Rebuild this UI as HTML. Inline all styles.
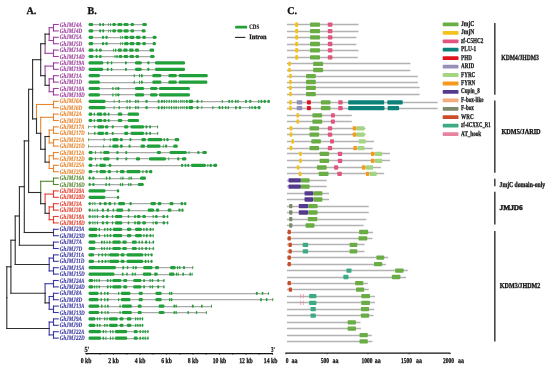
<!DOCTYPE html>
<html><head><meta charset="utf-8"><title>GhJMJ gene family: phylogeny, gene structure and domains</title>
<style>
html,body{margin:0;padding:0;background:#fff;}
body{width:550px;height:370px;overflow:hidden;}
svg{display:block;will-change:transform;}
</style></head><body>
<svg width="550" height="370" viewBox="0 0 550 370" text-rendering="geometricPrecision">
<rect width="550" height="370" fill="#ffffff"/>
<g stroke-linecap="square">
<line x1="53.5" y1="24.5" x2="58.2" y2="24.5" stroke="#9c3f9c" stroke-width="1.1"/>
<line x1="53.5" y1="30.9" x2="58.2" y2="30.9" stroke="#9c3f9c" stroke-width="1.1"/>
<line x1="53.5" y1="24.5" x2="53.5" y2="30.9" stroke="#9c3f9c" stroke-width="1.1"/>
<line x1="53.5" y1="37.3" x2="58.2" y2="37.3" stroke="#9c3f9c" stroke-width="1.1"/>
<line x1="53.5" y1="43.7" x2="58.2" y2="43.7" stroke="#9c3f9c" stroke-width="1.1"/>
<line x1="53.5" y1="37.3" x2="53.5" y2="43.7" stroke="#9c3f9c" stroke-width="1.1"/>
<line x1="53.5" y1="50.1" x2="58.2" y2="50.1" stroke="#9c3f9c" stroke-width="1.1"/>
<line x1="53.5" y1="56.5" x2="58.2" y2="56.5" stroke="#9c3f9c" stroke-width="1.1"/>
<line x1="53.5" y1="50.1" x2="53.5" y2="56.5" stroke="#9c3f9c" stroke-width="1.1"/>
<line x1="53.5" y1="62.9" x2="58.2" y2="62.9" stroke="#9c3f9c" stroke-width="1.1"/>
<line x1="53.5" y1="69.3" x2="58.2" y2="69.3" stroke="#9c3f9c" stroke-width="1.1"/>
<line x1="53.5" y1="62.9" x2="53.5" y2="69.3" stroke="#9c3f9c" stroke-width="1.1"/>
<line x1="53.5" y1="75.7" x2="58.2" y2="75.7" stroke="#9c3f9c" stroke-width="1.1"/>
<line x1="53.5" y1="82.1" x2="58.2" y2="82.1" stroke="#9c3f9c" stroke-width="1.1"/>
<line x1="53.5" y1="75.7" x2="53.5" y2="82.1" stroke="#9c3f9c" stroke-width="1.1"/>
<line x1="53.5" y1="88.5" x2="58.2" y2="88.5" stroke="#9c3f9c" stroke-width="1.1"/>
<line x1="53.5" y1="94.9" x2="58.2" y2="94.9" stroke="#9c3f9c" stroke-width="1.1"/>
<line x1="53.5" y1="88.5" x2="53.5" y2="94.9" stroke="#9c3f9c" stroke-width="1.1"/>
<line x1="49.2" y1="27.7" x2="53.5" y2="27.7" stroke="#9c3f9c" stroke-width="1.1"/>
<line x1="49.2" y1="40.5" x2="53.5" y2="40.5" stroke="#9c3f9c" stroke-width="1.1"/>
<line x1="49.2" y1="27.7" x2="49.2" y2="34.1" stroke="#9c3f9c" stroke-width="1.1"/>
<line x1="49.2" y1="34.1" x2="49.2" y2="40.5" stroke="#9c3f9c" stroke-width="1.1"/>
<line x1="45.1" y1="34.1" x2="49.2" y2="34.1" stroke="#2e2e2e" stroke-width="1.1"/>
<line x1="45.1" y1="53.3" x2="53.5" y2="53.3" stroke="#9c3f9c" stroke-width="1.1"/>
<line x1="45.1" y1="34.1" x2="45.1" y2="43.7" stroke="#2e2e2e" stroke-width="1.1"/>
<line x1="45.1" y1="43.7" x2="45.1" y2="53.3" stroke="#9c3f9c" stroke-width="1.1"/>
<line x1="49.2" y1="78.9" x2="53.5" y2="78.9" stroke="#9c3f9c" stroke-width="1.1"/>
<line x1="49.2" y1="91.7" x2="53.5" y2="91.7" stroke="#9c3f9c" stroke-width="1.1"/>
<line x1="49.2" y1="78.9" x2="49.2" y2="85.3" stroke="#9c3f9c" stroke-width="1.1"/>
<line x1="49.2" y1="85.3" x2="49.2" y2="91.7" stroke="#9c3f9c" stroke-width="1.1"/>
<line x1="45.1" y1="66.1" x2="53.5" y2="66.1" stroke="#9c3f9c" stroke-width="1.1"/>
<line x1="45.1" y1="85.3" x2="49.2" y2="85.3" stroke="#2e2e2e" stroke-width="1.1"/>
<line x1="45.1" y1="66.1" x2="45.1" y2="75.7" stroke="#9c3f9c" stroke-width="1.1"/>
<line x1="45.1" y1="75.7" x2="45.1" y2="85.3" stroke="#2e2e2e" stroke-width="1.1"/>
<line x1="40.7" y1="43.7" x2="45.1" y2="43.7" stroke="#2e2e2e" stroke-width="1.1"/>
<line x1="40.7" y1="75.7" x2="45.1" y2="75.7" stroke="#2e2e2e" stroke-width="1.1"/>
<line x1="40.7" y1="43.7" x2="40.7" y2="59.7" stroke="#2e2e2e" stroke-width="1.1"/>
<line x1="40.7" y1="59.7" x2="40.7" y2="75.7" stroke="#2e2e2e" stroke-width="1.1"/>
<line x1="53.5" y1="101.3" x2="58.2" y2="101.3" stroke="#e8852e" stroke-width="1.1"/>
<line x1="53.5" y1="107.7" x2="58.2" y2="107.7" stroke="#e8852e" stroke-width="1.1"/>
<line x1="53.5" y1="101.3" x2="53.5" y2="107.7" stroke="#e8852e" stroke-width="1.1"/>
<line x1="53.5" y1="114.1" x2="58.2" y2="114.1" stroke="#e8852e" stroke-width="1.1"/>
<line x1="53.5" y1="120.5" x2="58.2" y2="120.5" stroke="#e8852e" stroke-width="1.1"/>
<line x1="53.5" y1="114.1" x2="53.5" y2="120.5" stroke="#e8852e" stroke-width="1.1"/>
<line x1="53.5" y1="126.9" x2="58.2" y2="126.9" stroke="#e8852e" stroke-width="1.1"/>
<line x1="53.5" y1="133.3" x2="58.2" y2="133.3" stroke="#e8852e" stroke-width="1.1"/>
<line x1="53.5" y1="126.9" x2="53.5" y2="133.3" stroke="#e8852e" stroke-width="1.1"/>
<line x1="53.5" y1="139.7" x2="58.2" y2="139.7" stroke="#e8852e" stroke-width="1.1"/>
<line x1="53.5" y1="146.1" x2="58.2" y2="146.1" stroke="#e8852e" stroke-width="1.1"/>
<line x1="53.5" y1="139.7" x2="53.5" y2="146.1" stroke="#e8852e" stroke-width="1.1"/>
<line x1="53.5" y1="152.5" x2="58.2" y2="152.5" stroke="#e8852e" stroke-width="1.1"/>
<line x1="53.5" y1="158.9" x2="58.2" y2="158.9" stroke="#e8852e" stroke-width="1.1"/>
<line x1="53.5" y1="152.5" x2="53.5" y2="158.9" stroke="#e8852e" stroke-width="1.1"/>
<line x1="53.5" y1="165.3" x2="58.2" y2="165.3" stroke="#e8852e" stroke-width="1.1"/>
<line x1="53.5" y1="171.7" x2="58.2" y2="171.7" stroke="#e8852e" stroke-width="1.1"/>
<line x1="53.5" y1="165.3" x2="53.5" y2="171.7" stroke="#e8852e" stroke-width="1.1"/>
<line x1="49.2" y1="130.1" x2="53.5" y2="130.1" stroke="#e8852e" stroke-width="1.1"/>
<line x1="49.2" y1="142.9" x2="53.5" y2="142.9" stroke="#e8852e" stroke-width="1.1"/>
<line x1="49.2" y1="130.1" x2="49.2" y2="136.5" stroke="#e8852e" stroke-width="1.1"/>
<line x1="49.2" y1="136.5" x2="49.2" y2="142.9" stroke="#e8852e" stroke-width="1.1"/>
<line x1="49.2" y1="155.7" x2="53.5" y2="155.7" stroke="#e8852e" stroke-width="1.1"/>
<line x1="49.2" y1="168.5" x2="53.5" y2="168.5" stroke="#e8852e" stroke-width="1.1"/>
<line x1="49.2" y1="155.7" x2="49.2" y2="162.1" stroke="#e8852e" stroke-width="1.1"/>
<line x1="49.2" y1="162.1" x2="49.2" y2="168.5" stroke="#e8852e" stroke-width="1.1"/>
<line x1="45.1" y1="136.5" x2="49.2" y2="136.5" stroke="#2e2e2e" stroke-width="1.1"/>
<line x1="45.1" y1="162.1" x2="49.2" y2="162.1" stroke="#2e2e2e" stroke-width="1.1"/>
<line x1="45.1" y1="136.5" x2="45.1" y2="149.3" stroke="#2e2e2e" stroke-width="1.1"/>
<line x1="45.1" y1="149.3" x2="45.1" y2="162.1" stroke="#2e2e2e" stroke-width="1.1"/>
<line x1="40.7" y1="117.3" x2="53.5" y2="117.3" stroke="#e8852e" stroke-width="1.1"/>
<line x1="40.7" y1="149.3" x2="45.1" y2="149.3" stroke="#2e2e2e" stroke-width="1.1"/>
<line x1="40.7" y1="117.3" x2="40.7" y2="133.3" stroke="#e8852e" stroke-width="1.1"/>
<line x1="40.7" y1="133.3" x2="40.7" y2="149.3" stroke="#2e2e2e" stroke-width="1.1"/>
<line x1="36.5" y1="104.5" x2="53.5" y2="104.5" stroke="#e8852e" stroke-width="1.1"/>
<line x1="36.5" y1="133.3" x2="40.7" y2="133.3" stroke="#2e2e2e" stroke-width="1.1"/>
<line x1="36.5" y1="104.5" x2="36.5" y2="118.9" stroke="#e8852e" stroke-width="1.1"/>
<line x1="36.5" y1="118.9" x2="36.5" y2="133.3" stroke="#2e2e2e" stroke-width="1.1"/>
<line x1="32.6" y1="59.7" x2="40.7" y2="59.7" stroke="#2e2e2e" stroke-width="1.1"/>
<line x1="32.6" y1="118.9" x2="36.5" y2="118.9" stroke="#2e2e2e" stroke-width="1.1"/>
<line x1="32.6" y1="59.7" x2="32.6" y2="89.3" stroke="#2e2e2e" stroke-width="1.1"/>
<line x1="32.6" y1="89.3" x2="32.6" y2="118.9" stroke="#2e2e2e" stroke-width="1.1"/>
<line x1="53.5" y1="178.1" x2="58.2" y2="178.1" stroke="#55882f" stroke-width="1.1"/>
<line x1="53.5" y1="184.5" x2="58.2" y2="184.5" stroke="#55882f" stroke-width="1.1"/>
<line x1="53.5" y1="178.1" x2="53.5" y2="184.5" stroke="#55882f" stroke-width="1.1"/>
<line x1="53.5" y1="190.9" x2="58.2" y2="190.9" stroke="#e2402f" stroke-width="1.1"/>
<line x1="53.5" y1="197.3" x2="58.2" y2="197.3" stroke="#e2402f" stroke-width="1.1"/>
<line x1="53.5" y1="190.9" x2="53.5" y2="197.3" stroke="#e2402f" stroke-width="1.1"/>
<line x1="53.5" y1="203.7" x2="58.2" y2="203.7" stroke="#e2402f" stroke-width="1.1"/>
<line x1="53.5" y1="210.1" x2="58.2" y2="210.1" stroke="#e2402f" stroke-width="1.1"/>
<line x1="53.5" y1="203.7" x2="53.5" y2="210.1" stroke="#e2402f" stroke-width="1.1"/>
<line x1="53.5" y1="216.5" x2="58.2" y2="216.5" stroke="#e2402f" stroke-width="1.1"/>
<line x1="53.5" y1="222.9" x2="58.2" y2="222.9" stroke="#e2402f" stroke-width="1.1"/>
<line x1="53.5" y1="216.5" x2="53.5" y2="222.9" stroke="#e2402f" stroke-width="1.1"/>
<line x1="49.2" y1="206.9" x2="53.5" y2="206.9" stroke="#e2402f" stroke-width="1.1"/>
<line x1="49.2" y1="219.7" x2="53.5" y2="219.7" stroke="#e2402f" stroke-width="1.1"/>
<line x1="49.2" y1="206.9" x2="49.2" y2="213.3" stroke="#e2402f" stroke-width="1.1"/>
<line x1="49.2" y1="213.3" x2="49.2" y2="219.7" stroke="#e2402f" stroke-width="1.1"/>
<line x1="45.1" y1="194.1" x2="53.5" y2="194.1" stroke="#e2402f" stroke-width="1.1"/>
<line x1="45.1" y1="213.3" x2="49.2" y2="213.3" stroke="#2e2e2e" stroke-width="1.1"/>
<line x1="45.1" y1="194.1" x2="45.1" y2="203.7" stroke="#e2402f" stroke-width="1.1"/>
<line x1="45.1" y1="203.7" x2="45.1" y2="213.3" stroke="#2e2e2e" stroke-width="1.1"/>
<line x1="40.7" y1="181.3" x2="53.5" y2="181.3" stroke="#55882f" stroke-width="1.1"/>
<line x1="40.7" y1="203.7" x2="45.1" y2="203.7" stroke="#2e2e2e" stroke-width="1.1"/>
<line x1="40.7" y1="181.3" x2="40.7" y2="192.5" stroke="#55882f" stroke-width="1.1"/>
<line x1="40.7" y1="192.5" x2="40.7" y2="203.7" stroke="#2e2e2e" stroke-width="1.1"/>
<line x1="28.6" y1="89.3" x2="32.6" y2="89.3" stroke="#2e2e2e" stroke-width="1.1"/>
<line x1="28.6" y1="192.5" x2="40.7" y2="192.5" stroke="#2e2e2e" stroke-width="1.1"/>
<line x1="28.6" y1="89.3" x2="28.6" y2="140.9" stroke="#2e2e2e" stroke-width="1.1"/>
<line x1="28.6" y1="140.9" x2="28.6" y2="192.5" stroke="#2e2e2e" stroke-width="1.1"/>
<line x1="53.5" y1="229.3" x2="58.2" y2="229.3" stroke="#3a38a2" stroke-width="1.1"/>
<line x1="53.5" y1="235.7" x2="58.2" y2="235.7" stroke="#3a38a2" stroke-width="1.1"/>
<line x1="53.5" y1="229.3" x2="53.5" y2="235.7" stroke="#3a38a2" stroke-width="1.1"/>
<line x1="53.5" y1="242.1" x2="58.2" y2="242.1" stroke="#3a38a2" stroke-width="1.1"/>
<line x1="53.5" y1="248.5" x2="58.2" y2="248.5" stroke="#3a38a2" stroke-width="1.1"/>
<line x1="53.5" y1="242.1" x2="53.5" y2="248.5" stroke="#3a38a2" stroke-width="1.1"/>
<line x1="53.5" y1="254.9" x2="58.2" y2="254.9" stroke="#3a38a2" stroke-width="1.1"/>
<line x1="53.5" y1="261.3" x2="58.2" y2="261.3" stroke="#3a38a2" stroke-width="1.1"/>
<line x1="53.5" y1="254.9" x2="53.5" y2="261.3" stroke="#3a38a2" stroke-width="1.1"/>
<line x1="53.5" y1="267.7" x2="58.2" y2="267.7" stroke="#3a38a2" stroke-width="1.1"/>
<line x1="53.5" y1="274.1" x2="58.2" y2="274.1" stroke="#3a38a2" stroke-width="1.1"/>
<line x1="53.5" y1="267.7" x2="53.5" y2="274.1" stroke="#3a38a2" stroke-width="1.1"/>
<line x1="53.5" y1="280.5" x2="58.2" y2="280.5" stroke="#3a38a2" stroke-width="1.1"/>
<line x1="53.5" y1="286.9" x2="58.2" y2="286.9" stroke="#3a38a2" stroke-width="1.1"/>
<line x1="53.5" y1="280.5" x2="53.5" y2="286.9" stroke="#3a38a2" stroke-width="1.1"/>
<line x1="53.5" y1="293.3" x2="58.2" y2="293.3" stroke="#3a38a2" stroke-width="1.1"/>
<line x1="53.5" y1="299.7" x2="58.2" y2="299.7" stroke="#3a38a2" stroke-width="1.1"/>
<line x1="53.5" y1="293.3" x2="53.5" y2="299.7" stroke="#3a38a2" stroke-width="1.1"/>
<line x1="53.5" y1="306.1" x2="58.2" y2="306.1" stroke="#3a38a2" stroke-width="1.1"/>
<line x1="53.5" y1="312.5" x2="58.2" y2="312.5" stroke="#3a38a2" stroke-width="1.1"/>
<line x1="53.5" y1="306.1" x2="53.5" y2="312.5" stroke="#3a38a2" stroke-width="1.1"/>
<line x1="53.5" y1="318.9" x2="58.2" y2="318.9" stroke="#3a38a2" stroke-width="1.1"/>
<line x1="53.5" y1="325.3" x2="58.2" y2="325.3" stroke="#3a38a2" stroke-width="1.1"/>
<line x1="53.5" y1="318.9" x2="53.5" y2="325.3" stroke="#3a38a2" stroke-width="1.1"/>
<line x1="53.5" y1="331.7" x2="58.2" y2="331.7" stroke="#3a38a2" stroke-width="1.1"/>
<line x1="53.5" y1="338.1" x2="58.2" y2="338.1" stroke="#3a38a2" stroke-width="1.1"/>
<line x1="53.5" y1="331.7" x2="53.5" y2="338.1" stroke="#3a38a2" stroke-width="1.1"/>
<line x1="24.3" y1="140.9" x2="28.6" y2="140.9" stroke="#2e2e2e" stroke-width="1.1"/>
<line x1="24.3" y1="232.5" x2="53.5" y2="232.5" stroke="#2e2e2e" stroke-width="1.1"/>
<line x1="24.3" y1="140.9" x2="24.3" y2="186.7" stroke="#2e2e2e" stroke-width="1.1"/>
<line x1="24.3" y1="186.7" x2="24.3" y2="232.5" stroke="#2e2e2e" stroke-width="1.1"/>
<line x1="19.4" y1="186.7" x2="24.3" y2="186.7" stroke="#2e2e2e" stroke-width="1.1"/>
<line x1="19.4" y1="245.3" x2="53.5" y2="245.3" stroke="#2e2e2e" stroke-width="1.1"/>
<line x1="19.4" y1="186.7" x2="19.4" y2="216.0" stroke="#2e2e2e" stroke-width="1.1"/>
<line x1="19.4" y1="216.0" x2="19.4" y2="245.3" stroke="#2e2e2e" stroke-width="1.1"/>
<line x1="49.2" y1="258.1" x2="53.5" y2="258.1" stroke="#3a38a2" stroke-width="1.1"/>
<line x1="49.2" y1="270.9" x2="53.5" y2="270.9" stroke="#3a38a2" stroke-width="1.1"/>
<line x1="49.2" y1="258.1" x2="49.2" y2="264.5" stroke="#3a38a2" stroke-width="1.1"/>
<line x1="49.2" y1="264.5" x2="49.2" y2="270.9" stroke="#3a38a2" stroke-width="1.1"/>
<line x1="15.2" y1="216.0" x2="19.4" y2="216.0" stroke="#2e2e2e" stroke-width="1.1"/>
<line x1="15.2" y1="264.5" x2="49.2" y2="264.5" stroke="#2e2e2e" stroke-width="1.1"/>
<line x1="15.2" y1="216.0" x2="15.2" y2="240.2" stroke="#2e2e2e" stroke-width="1.1"/>
<line x1="15.2" y1="240.2" x2="15.2" y2="264.5" stroke="#2e2e2e" stroke-width="1.1"/>
<line x1="49.2" y1="296.5" x2="53.5" y2="296.5" stroke="#3a38a2" stroke-width="1.1"/>
<line x1="49.2" y1="309.3" x2="53.5" y2="309.3" stroke="#3a38a2" stroke-width="1.1"/>
<line x1="49.2" y1="296.5" x2="49.2" y2="302.9" stroke="#3a38a2" stroke-width="1.1"/>
<line x1="49.2" y1="302.9" x2="49.2" y2="309.3" stroke="#3a38a2" stroke-width="1.1"/>
<line x1="45.1" y1="283.7" x2="53.5" y2="283.7" stroke="#3a38a2" stroke-width="1.1"/>
<line x1="45.1" y1="302.9" x2="49.2" y2="302.9" stroke="#2e2e2e" stroke-width="1.1"/>
<line x1="45.1" y1="283.7" x2="45.1" y2="293.3" stroke="#3a38a2" stroke-width="1.1"/>
<line x1="45.1" y1="293.3" x2="45.1" y2="302.9" stroke="#2e2e2e" stroke-width="1.1"/>
<line x1="10.9" y1="240.2" x2="15.2" y2="240.2" stroke="#2e2e2e" stroke-width="1.1"/>
<line x1="10.9" y1="293.3" x2="45.1" y2="293.3" stroke="#2e2e2e" stroke-width="1.1"/>
<line x1="10.9" y1="240.2" x2="10.9" y2="266.8" stroke="#2e2e2e" stroke-width="1.1"/>
<line x1="10.9" y1="266.8" x2="10.9" y2="293.3" stroke="#2e2e2e" stroke-width="1.1"/>
<line x1="49.2" y1="322.1" x2="53.5" y2="322.1" stroke="#3a38a2" stroke-width="1.1"/>
<line x1="49.2" y1="334.9" x2="53.5" y2="334.9" stroke="#3a38a2" stroke-width="1.1"/>
<line x1="49.2" y1="322.1" x2="49.2" y2="328.5" stroke="#3a38a2" stroke-width="1.1"/>
<line x1="49.2" y1="328.5" x2="49.2" y2="334.9" stroke="#3a38a2" stroke-width="1.1"/>
<line x1="6.8" y1="266.8" x2="10.9" y2="266.8" stroke="#2e2e2e" stroke-width="1.1"/>
<line x1="6.8" y1="328.5" x2="49.2" y2="328.5" stroke="#2e2e2e" stroke-width="1.1"/>
<line x1="6.8" y1="266.8" x2="6.8" y2="297.6" stroke="#2e2e2e" stroke-width="1.1"/>
<line x1="6.8" y1="297.6" x2="6.8" y2="328.5" stroke="#2e2e2e" stroke-width="1.1"/>
</g>
<g font-family="'Liberation Serif', serif" font-weight="bold" font-style="italic" font-size="6.6" stroke-width="0.15">
<text transform="translate(59.8,26.5) scale(0.77,1)" fill="#9c3f9c" stroke="#9c3f9c">GhJMJ4A</text>
<text transform="translate(59.8,32.9) scale(0.77,1)" fill="#9c3f9c" stroke="#9c3f9c">GhJMJ4D</text>
<text transform="translate(59.8,39.3) scale(0.77,1)" fill="#9c3f9c" stroke="#9c3f9c">GhJMJ5A</text>
<text transform="translate(59.8,45.7) scale(0.77,1)" fill="#9c3f9c" stroke="#9c3f9c">GhJMJ5D</text>
<text transform="translate(59.8,52.1) scale(0.77,1)" fill="#9c3f9c" stroke="#9c3f9c">GhJMJ14A</text>
<text transform="translate(59.8,58.5) scale(0.77,1)" fill="#9c3f9c" stroke="#9c3f9c">GhJMJ14D</text>
<text transform="translate(59.8,64.9) scale(0.77,1)" fill="#9c3f9c" stroke="#9c3f9c">GhJMJ19A</text>
<text transform="translate(59.8,71.3) scale(0.77,1)" fill="#9c3f9c" stroke="#9c3f9c">GhJMJ19D</text>
<text transform="translate(59.8,77.7) scale(0.77,1)" fill="#9c3f9c" stroke="#9c3f9c">GhJMJ1A</text>
<text transform="translate(59.8,84.1) scale(0.77,1)" fill="#9c3f9c" stroke="#9c3f9c">GhJMJ1D</text>
<text transform="translate(59.8,90.5) scale(0.77,1)" fill="#9c3f9c" stroke="#9c3f9c">GhJMJ10A</text>
<text transform="translate(59.8,96.9) scale(0.77,1)" fill="#9c3f9c" stroke="#9c3f9c">GhJMJ10D</text>
<text transform="translate(59.8,103.3) scale(0.77,1)" fill="#e8852e" stroke="#e8852e">GhJMJ6A</text>
<text transform="translate(59.8,109.7) scale(0.77,1)" fill="#e8852e" stroke="#e8852e">GhJMJ6D</text>
<text transform="translate(59.8,116.1) scale(0.77,1)" fill="#e8852e" stroke="#e8852e">GhJMJ2A</text>
<text transform="translate(59.8,122.5) scale(0.77,1)" fill="#e8852e" stroke="#e8852e">GhJMJ2D</text>
<text transform="translate(59.8,128.9) scale(0.77,1)" fill="#e8852e" stroke="#e8852e">GhJMJ17A</text>
<text transform="translate(59.8,135.3) scale(0.77,1)" fill="#e8852e" stroke="#e8852e">GhJMJ17D</text>
<text transform="translate(59.8,141.7) scale(0.77,1)" fill="#e8852e" stroke="#e8852e">GhJMJ21A</text>
<text transform="translate(59.8,148.1) scale(0.77,1)" fill="#e8852e" stroke="#e8852e">GhJMJ21D</text>
<text transform="translate(59.8,154.5) scale(0.77,1)" fill="#e8852e" stroke="#e8852e">GhJMJ12A</text>
<text transform="translate(59.8,160.9) scale(0.77,1)" fill="#e8852e" stroke="#e8852e">GhJMJ12D</text>
<text transform="translate(59.8,167.3) scale(0.77,1)" fill="#e8852e" stroke="#e8852e">GhJMJ25A</text>
<text transform="translate(59.8,173.7) scale(0.77,1)" fill="#e8852e" stroke="#e8852e">GhJMJ25D</text>
<text transform="translate(59.8,180.1) scale(0.77,1)" fill="#55882f" stroke="#55882f">GhJMJ16A</text>
<text transform="translate(59.8,186.5) scale(0.77,1)" fill="#55882f" stroke="#55882f">GhJMJ16D</text>
<text transform="translate(59.8,192.9) scale(0.77,1)" fill="#e2402f" stroke="#e2402f">GhJMJ20A</text>
<text transform="translate(59.8,199.3) scale(0.77,1)" fill="#e2402f" stroke="#e2402f">GhJMJ20D</text>
<text transform="translate(59.8,205.7) scale(0.77,1)" fill="#e2402f" stroke="#e2402f">GhJMJ3A</text>
<text transform="translate(59.8,212.1) scale(0.77,1)" fill="#e2402f" stroke="#e2402f">GhJMJ3D</text>
<text transform="translate(59.8,218.5) scale(0.77,1)" fill="#e2402f" stroke="#e2402f">GhJMJ18A</text>
<text transform="translate(59.8,224.9) scale(0.77,1)" fill="#e2402f" stroke="#e2402f">GhJMJ18D</text>
<text transform="translate(59.8,231.3) scale(0.77,1)" fill="#3a38a2" stroke="#3a38a2">GhJMJ23A</text>
<text transform="translate(59.8,237.7) scale(0.77,1)" fill="#3a38a2" stroke="#3a38a2">GhJMJ23D</text>
<text transform="translate(59.8,244.1) scale(0.77,1)" fill="#3a38a2" stroke="#3a38a2">GhJMJ7A</text>
<text transform="translate(59.8,250.5) scale(0.77,1)" fill="#3a38a2" stroke="#3a38a2">GhJMJ7D</text>
<text transform="translate(59.8,256.9) scale(0.77,1)" fill="#3a38a2" stroke="#3a38a2">GhJMJ11A</text>
<text transform="translate(59.8,263.3) scale(0.77,1)" fill="#3a38a2" stroke="#3a38a2">GhJMJ11D</text>
<text transform="translate(59.8,269.7) scale(0.77,1)" fill="#3a38a2" stroke="#3a38a2">GhJMJ15A</text>
<text transform="translate(59.8,276.1) scale(0.77,1)" fill="#3a38a2" stroke="#3a38a2">GhJMJ15D</text>
<text transform="translate(59.8,282.5) scale(0.77,1)" fill="#3a38a2" stroke="#3a38a2">GhJMJ24A</text>
<text transform="translate(59.8,288.9) scale(0.77,1)" fill="#3a38a2" stroke="#3a38a2">GhJMJ24D</text>
<text transform="translate(59.8,295.3) scale(0.77,1)" fill="#3a38a2" stroke="#3a38a2">GhJMJ8A</text>
<text transform="translate(59.8,301.7) scale(0.77,1)" fill="#3a38a2" stroke="#3a38a2">GhJMJ8D</text>
<text transform="translate(59.8,308.1) scale(0.77,1)" fill="#3a38a2" stroke="#3a38a2">GhJMJ13A</text>
<text transform="translate(59.8,314.5) scale(0.77,1)" fill="#3a38a2" stroke="#3a38a2">GhJMJ13D</text>
<text transform="translate(59.8,320.9) scale(0.77,1)" fill="#3a38a2" stroke="#3a38a2">GhJMJ9A</text>
<text transform="translate(59.8,327.3) scale(0.77,1)" fill="#3a38a2" stroke="#3a38a2">GhJMJ9D</text>
<text transform="translate(59.8,333.7) scale(0.77,1)" fill="#3a38a2" stroke="#3a38a2">GhJMJ22A</text>
<text transform="translate(59.8,340.1) scale(0.77,1)" fill="#3a38a2" stroke="#3a38a2">GhJMJ22D</text>
</g>
<g>
<line x1="88.6" y1="24.5" x2="146.8" y2="24.5" stroke="#a9a9a9" stroke-width="1.25"/>
<rect x="88.6" y="22.90" width="4.6" height="3.2" rx="1.30" fill="#1fa038"/>
<rect x="99.2" y="22.90" width="1.8" height="3.2" rx="0.90" fill="#1fa038"/>
<rect x="102.3" y="22.90" width="1.8" height="3.2" rx="0.90" fill="#1fa038"/>
<rect x="108.1" y="22.90" width="0.7" height="3.2" rx="0.35" fill="#1fa038"/>
<rect x="110.1" y="22.90" width="0.9" height="3.2" rx="0.45" fill="#1fa038"/>
<rect x="112.3" y="22.90" width="3.6" height="3.2" rx="1.30" fill="#1fa038"/>
<rect x="117.4" y="22.90" width="4.9" height="3.2" rx="1.30" fill="#1fa038"/>
<rect x="123.5" y="22.90" width="5.1" height="3.2" rx="1.30" fill="#1fa038"/>
<rect x="130.5" y="22.90" width="3.6" height="3.2" rx="1.30" fill="#1fa038"/>
<rect x="142.3" y="22.90" width="4.5" height="3.2" rx="1.30" fill="#1fa038"/>
<line x1="88.6" y1="30.5" x2="145.5" y2="30.5" stroke="#a9a9a9" stroke-width="1.25"/>
<rect x="88.6" y="29.30" width="4.6" height="3.2" rx="1.30" fill="#1fa038"/>
<rect x="99.2" y="29.30" width="1.8" height="3.2" rx="0.90" fill="#1fa038"/>
<rect x="102.3" y="29.30" width="1.8" height="3.2" rx="0.90" fill="#1fa038"/>
<rect x="108.1" y="29.30" width="0.7" height="3.2" rx="0.35" fill="#1fa038"/>
<rect x="110.1" y="29.30" width="0.9" height="3.2" rx="0.45" fill="#1fa038"/>
<rect x="112.3" y="29.30" width="3.6" height="3.2" rx="1.30" fill="#1fa038"/>
<rect x="117.4" y="29.30" width="4.9" height="3.2" rx="1.30" fill="#1fa038"/>
<rect x="123.5" y="29.30" width="5.1" height="3.2" rx="1.30" fill="#1fa038"/>
<rect x="130.5" y="29.30" width="3.6" height="3.2" rx="1.30" fill="#1fa038"/>
<rect x="141.7" y="29.30" width="3.8" height="3.2" rx="1.30" fill="#1fa038"/>
<line x1="88.6" y1="37.5" x2="156.5" y2="37.5" stroke="#a9a9a9" stroke-width="1.25"/>
<rect x="88.6" y="35.70" width="4.6" height="3.2" rx="1.30" fill="#1fa038"/>
<rect x="101.9" y="35.70" width="2.2" height="3.2" rx="1.10" fill="#1fa038"/>
<rect x="105.4" y="35.70" width="2.3" height="3.2" rx="1.15" fill="#1fa038"/>
<rect x="120.1" y="35.70" width="0.7" height="3.2" rx="0.35" fill="#1fa038"/>
<rect x="121.9" y="35.70" width="0.9" height="3.2" rx="0.45" fill="#1fa038"/>
<rect x="124.1" y="35.70" width="4.5" height="3.2" rx="1.30" fill="#1fa038"/>
<rect x="129.5" y="35.70" width="5.0" height="3.2" rx="1.30" fill="#1fa038"/>
<rect x="135.9" y="35.70" width="4.6" height="3.2" rx="1.30" fill="#1fa038"/>
<rect x="142.3" y="35.70" width="3.6" height="3.2" rx="1.30" fill="#1fa038"/>
<rect x="152.6" y="35.70" width="3.9" height="3.2" rx="1.30" fill="#1fa038"/>
<line x1="88.6" y1="43.5" x2="155.9" y2="43.5" stroke="#a9a9a9" stroke-width="1.25"/>
<rect x="88.6" y="42.10" width="4.6" height="3.2" rx="1.30" fill="#1fa038"/>
<rect x="101.9" y="42.10" width="2.2" height="3.2" rx="1.10" fill="#1fa038"/>
<rect x="105.4" y="42.10" width="2.3" height="3.2" rx="1.15" fill="#1fa038"/>
<rect x="120.1" y="42.10" width="0.7" height="3.2" rx="0.35" fill="#1fa038"/>
<rect x="121.9" y="42.10" width="0.9" height="3.2" rx="0.45" fill="#1fa038"/>
<rect x="124.1" y="42.10" width="4.5" height="3.2" rx="1.30" fill="#1fa038"/>
<rect x="129.5" y="42.10" width="5.0" height="3.2" rx="1.30" fill="#1fa038"/>
<rect x="135.9" y="42.10" width="4.6" height="3.2" rx="1.30" fill="#1fa038"/>
<rect x="142.3" y="42.10" width="3.6" height="3.2" rx="1.30" fill="#1fa038"/>
<rect x="152.6" y="42.10" width="3.3" height="3.2" rx="1.30" fill="#1fa038"/>
<line x1="88.6" y1="50.5" x2="154.1" y2="50.5" stroke="#a9a9a9" stroke-width="1.25"/>
<rect x="88.6" y="48.50" width="4.9" height="3.2" rx="1.30" fill="#1fa038"/>
<rect x="95.5" y="48.50" width="2.2" height="3.2" rx="1.10" fill="#1fa038"/>
<rect x="99.0" y="48.50" width="2.7" height="3.2" rx="1.30" fill="#1fa038"/>
<rect x="113.2" y="48.50" width="0.9" height="3.2" rx="0.45" fill="#1fa038"/>
<rect x="115.0" y="48.50" width="1.3" height="3.2" rx="0.65" fill="#1fa038"/>
<rect x="117.7" y="48.50" width="4.2" height="3.2" rx="1.30" fill="#1fa038"/>
<rect x="123.2" y="48.50" width="4.5" height="3.2" rx="1.30" fill="#1fa038"/>
<rect x="129.0" y="48.50" width="4.7" height="3.2" rx="1.30" fill="#1fa038"/>
<rect x="135.0" y="48.50" width="4.0" height="3.2" rx="1.30" fill="#1fa038"/>
<rect x="149.5" y="48.50" width="4.6" height="3.2" rx="1.30" fill="#1fa038"/>
<line x1="88.6" y1="56.5" x2="154.5" y2="56.5" stroke="#a9a9a9" stroke-width="1.25"/>
<rect x="88.6" y="54.90" width="4.9" height="3.2" rx="1.30" fill="#1fa038"/>
<rect x="95.5" y="54.90" width="2.2" height="3.2" rx="1.10" fill="#1fa038"/>
<rect x="99.0" y="54.90" width="2.7" height="3.2" rx="1.30" fill="#1fa038"/>
<rect x="114.6" y="54.90" width="0.9" height="3.2" rx="0.45" fill="#1fa038"/>
<rect x="116.3" y="54.90" width="1.4" height="3.2" rx="0.70" fill="#1fa038"/>
<rect x="118.6" y="54.90" width="3.7" height="3.2" rx="1.30" fill="#1fa038"/>
<rect x="123.5" y="54.90" width="4.8" height="3.2" rx="1.30" fill="#1fa038"/>
<rect x="129.5" y="54.90" width="4.6" height="3.2" rx="1.30" fill="#1fa038"/>
<rect x="135.4" y="54.90" width="3.6" height="3.2" rx="1.30" fill="#1fa038"/>
<rect x="150.1" y="54.90" width="4.4" height="3.2" rx="1.30" fill="#1fa038"/>
<line x1="88.6" y1="62.5" x2="185.0" y2="62.5" stroke="#a9a9a9" stroke-width="1.25"/>
<rect x="88.6" y="61.30" width="14.6" height="3.2" rx="1.30" fill="#1fa038"/>
<rect x="106.8" y="61.30" width="1.8" height="3.2" rx="0.90" fill="#1fa038"/>
<rect x="110.8" y="61.30" width="1.5" height="3.2" rx="0.75" fill="#1fa038"/>
<rect x="125.0" y="61.30" width="1.8" height="3.2" rx="0.90" fill="#1fa038"/>
<rect x="135.0" y="61.30" width="6.7" height="3.2" rx="1.30" fill="#1fa038"/>
<rect x="147.2" y="61.30" width="2.3" height="3.2" rx="1.15" fill="#1fa038"/>
<rect x="155.0" y="61.30" width="30.0" height="3.2" rx="1.30" fill="#1fa038"/>
<line x1="88.6" y1="69.5" x2="185.0" y2="69.5" stroke="#a9a9a9" stroke-width="1.25"/>
<rect x="88.6" y="67.70" width="14.6" height="3.2" rx="1.30" fill="#1fa038"/>
<rect x="106.8" y="67.70" width="1.8" height="3.2" rx="0.90" fill="#1fa038"/>
<rect x="110.8" y="67.70" width="1.5" height="3.2" rx="0.75" fill="#1fa038"/>
<rect x="125.0" y="67.70" width="1.8" height="3.2" rx="0.90" fill="#1fa038"/>
<rect x="135.0" y="67.70" width="6.7" height="3.2" rx="1.30" fill="#1fa038"/>
<rect x="147.2" y="67.70" width="2.3" height="3.2" rx="1.15" fill="#1fa038"/>
<rect x="155.0" y="67.70" width="30.0" height="3.2" rx="1.30" fill="#1fa038"/>
<line x1="88.6" y1="75.5" x2="207.7" y2="75.5" stroke="#a9a9a9" stroke-width="1.25"/>
<rect x="88.6" y="74.10" width="11.3" height="3.2" rx="1.30" fill="#1fa038"/>
<rect x="133.7" y="74.10" width="1.1" height="3.2" rx="0.55" fill="#1fa038"/>
<rect x="139.0" y="74.10" width="1.1" height="3.2" rx="0.55" fill="#1fa038"/>
<rect x="141.0" y="74.10" width="1.8" height="3.2" rx="0.90" fill="#1fa038"/>
<rect x="152.3" y="74.10" width="9.1" height="3.2" rx="1.30" fill="#1fa038"/>
<rect x="168.3" y="74.10" width="8.5" height="3.2" rx="1.30" fill="#1fa038"/>
<rect x="178.6" y="74.10" width="29.1" height="3.2" rx="1.30" fill="#1fa038"/>
<line x1="88.6" y1="82.5" x2="207.3" y2="82.5" stroke="#a9a9a9" stroke-width="1.25"/>
<rect x="88.6" y="80.50" width="11.3" height="3.2" rx="1.30" fill="#1fa038"/>
<rect x="133.7" y="80.50" width="1.1" height="3.2" rx="0.55" fill="#1fa038"/>
<rect x="139.0" y="80.50" width="1.1" height="3.2" rx="0.55" fill="#1fa038"/>
<rect x="141.0" y="80.50" width="1.8" height="3.2" rx="0.90" fill="#1fa038"/>
<rect x="152.3" y="80.50" width="9.1" height="3.2" rx="1.30" fill="#1fa038"/>
<rect x="168.3" y="80.50" width="8.5" height="3.2" rx="1.30" fill="#1fa038"/>
<rect x="178.6" y="80.50" width="28.7" height="3.2" rx="1.30" fill="#1fa038"/>
<line x1="88.6" y1="88.5" x2="189.9" y2="88.5" stroke="#a9a9a9" stroke-width="1.25"/>
<rect x="88.6" y="86.90" width="11.3" height="3.2" rx="1.30" fill="#1fa038"/>
<rect x="112.3" y="86.90" width="1.2" height="3.2" rx="0.60" fill="#1fa038"/>
<rect x="115.4" y="86.90" width="1.1" height="3.2" rx="0.55" fill="#1fa038"/>
<rect x="117.2" y="86.90" width="2.3" height="3.2" rx="1.15" fill="#1fa038"/>
<rect x="135.0" y="86.90" width="9.1" height="3.2" rx="1.30" fill="#1fa038"/>
<rect x="150.1" y="86.90" width="7.3" height="3.2" rx="1.30" fill="#1fa038"/>
<rect x="159.0" y="86.90" width="30.9" height="3.2" rx="1.30" fill="#1fa038"/>
<line x1="88.6" y1="94.5" x2="189.9" y2="94.5" stroke="#a9a9a9" stroke-width="1.25"/>
<rect x="88.6" y="93.30" width="11.3" height="3.2" rx="1.30" fill="#1fa038"/>
<rect x="112.3" y="93.30" width="1.2" height="3.2" rx="0.60" fill="#1fa038"/>
<rect x="115.4" y="93.30" width="1.1" height="3.2" rx="0.55" fill="#1fa038"/>
<rect x="117.2" y="93.30" width="2.3" height="3.2" rx="1.15" fill="#1fa038"/>
<rect x="135.0" y="93.30" width="9.1" height="3.2" rx="1.30" fill="#1fa038"/>
<rect x="150.1" y="93.30" width="7.3" height="3.2" rx="1.30" fill="#1fa038"/>
<rect x="159.0" y="93.30" width="30.9" height="3.2" rx="1.30" fill="#1fa038"/>
<line x1="88.6" y1="101.5" x2="269.9" y2="101.5" stroke="#a9a9a9" stroke-width="1.25"/>
<rect x="88.6" y="99.70" width="16.9" height="3.2" rx="1.30" fill="#1fa038"/>
<rect x="113.7" y="99.70" width="0.8" height="3.2" rx="0.40" fill="#1fa038"/>
<rect x="118.6" y="99.70" width="1.3" height="3.2" rx="0.65" fill="#1fa038"/>
<rect x="126.5" y="99.70" width="1.2" height="3.2" rx="0.60" fill="#1fa038"/>
<rect x="129.2" y="99.70" width="1.3" height="3.2" rx="0.65" fill="#1fa038"/>
<rect x="135.0" y="99.70" width="1.5" height="3.2" rx="0.75" fill="#1fa038"/>
<rect x="137.4" y="99.70" width="1.4" height="3.2" rx="0.70" fill="#1fa038"/>
<rect x="145.4" y="99.70" width="2.3" height="3.2" rx="1.15" fill="#1fa038"/>
<rect x="157.7" y="99.70" width="1.8" height="3.2" rx="0.90" fill="#1fa038"/>
<rect x="161.0" y="99.70" width="1.8" height="3.2" rx="0.90" fill="#1fa038"/>
<rect x="163.7" y="99.70" width="1.3" height="3.2" rx="0.65" fill="#1fa038"/>
<rect x="166.3" y="99.70" width="0.9" height="3.2" rx="0.45" fill="#1fa038"/>
<rect x="168.6" y="99.70" width="1.1" height="3.2" rx="0.55" fill="#1fa038"/>
<rect x="171.0" y="99.70" width="1.1" height="3.2" rx="0.55" fill="#1fa038"/>
<rect x="173.5" y="99.70" width="1.1" height="3.2" rx="0.55" fill="#1fa038"/>
<rect x="175.5" y="99.70" width="1.3" height="3.2" rx="0.65" fill="#1fa038"/>
<rect x="178.3" y="99.70" width="0.7" height="3.2" rx="0.35" fill="#1fa038"/>
<rect x="180.1" y="99.70" width="0.7" height="3.2" rx="0.35" fill="#1fa038"/>
<rect x="181.7" y="99.70" width="0.9" height="3.2" rx="0.45" fill="#1fa038"/>
<rect x="183.7" y="99.70" width="0.9" height="3.2" rx="0.45" fill="#1fa038"/>
<rect x="185.9" y="99.70" width="1.8" height="3.2" rx="0.90" fill="#1fa038"/>
<rect x="188.6" y="99.70" width="4.6" height="3.2" rx="1.30" fill="#1fa038"/>
<rect x="196.5" y="99.70" width="2.1" height="3.2" rx="1.05" fill="#1fa038"/>
<rect x="201.4" y="99.70" width="0.9" height="3.2" rx="0.45" fill="#1fa038"/>
<rect x="221.9" y="99.70" width="0.9" height="3.2" rx="0.45" fill="#1fa038"/>
<rect x="228.3" y="99.70" width="1.8" height="3.2" rx="0.90" fill="#1fa038"/>
<rect x="231.4" y="99.70" width="1.4" height="3.2" rx="0.70" fill="#1fa038"/>
<rect x="235.0" y="99.70" width="1.5" height="3.2" rx="0.75" fill="#1fa038"/>
<rect x="237.4" y="99.70" width="1.2" height="3.2" rx="0.60" fill="#1fa038"/>
<rect x="245.0" y="99.70" width="1.8" height="3.2" rx="0.90" fill="#1fa038"/>
<rect x="249.2" y="99.70" width="2.2" height="3.2" rx="1.10" fill="#1fa038"/>
<rect x="258.1" y="99.70" width="1.1" height="3.2" rx="0.55" fill="#1fa038"/>
<rect x="260.5" y="99.70" width="1.8" height="3.2" rx="0.90" fill="#1fa038"/>
<rect x="263.5" y="99.70" width="2.4" height="3.2" rx="1.20" fill="#1fa038"/>
<rect x="267.4" y="99.70" width="2.5" height="3.2" rx="1.25" fill="#1fa038"/>
<line x1="88.6" y1="107.5" x2="260.5" y2="107.5" stroke="#a9a9a9" stroke-width="1.25"/>
<rect x="88.6" y="106.10" width="16.9" height="3.2" rx="1.30" fill="#1fa038"/>
<rect x="113.7" y="106.10" width="0.8" height="3.2" rx="0.40" fill="#1fa038"/>
<rect x="118.6" y="106.10" width="1.3" height="3.2" rx="0.65" fill="#1fa038"/>
<rect x="126.5" y="106.10" width="1.2" height="3.2" rx="0.60" fill="#1fa038"/>
<rect x="129.2" y="106.10" width="1.3" height="3.2" rx="0.65" fill="#1fa038"/>
<rect x="135.0" y="106.10" width="1.5" height="3.2" rx="0.75" fill="#1fa038"/>
<rect x="137.4" y="106.10" width="1.4" height="3.2" rx="0.70" fill="#1fa038"/>
<rect x="145.4" y="106.10" width="2.3" height="3.2" rx="1.15" fill="#1fa038"/>
<rect x="157.7" y="106.10" width="1.8" height="3.2" rx="0.90" fill="#1fa038"/>
<rect x="161.0" y="106.10" width="1.8" height="3.2" rx="0.90" fill="#1fa038"/>
<rect x="163.7" y="106.10" width="1.3" height="3.2" rx="0.65" fill="#1fa038"/>
<rect x="166.3" y="106.10" width="0.9" height="3.2" rx="0.45" fill="#1fa038"/>
<rect x="168.6" y="106.10" width="1.1" height="3.2" rx="0.55" fill="#1fa038"/>
<rect x="171.0" y="106.10" width="1.1" height="3.2" rx="0.55" fill="#1fa038"/>
<rect x="173.5" y="106.10" width="1.1" height="3.2" rx="0.55" fill="#1fa038"/>
<rect x="175.5" y="106.10" width="1.3" height="3.2" rx="0.65" fill="#1fa038"/>
<rect x="178.3" y="106.10" width="0.7" height="3.2" rx="0.35" fill="#1fa038"/>
<rect x="180.1" y="106.10" width="0.7" height="3.2" rx="0.35" fill="#1fa038"/>
<rect x="181.7" y="106.10" width="0.9" height="3.2" rx="0.45" fill="#1fa038"/>
<rect x="183.7" y="106.10" width="0.9" height="3.2" rx="0.45" fill="#1fa038"/>
<rect x="185.9" y="106.10" width="1.8" height="3.2" rx="0.90" fill="#1fa038"/>
<rect x="188.6" y="106.10" width="4.6" height="3.2" rx="1.30" fill="#1fa038"/>
<rect x="196.5" y="106.10" width="2.1" height="3.2" rx="1.05" fill="#1fa038"/>
<rect x="201.4" y="106.10" width="0.9" height="3.2" rx="0.45" fill="#1fa038"/>
<rect x="212.3" y="106.10" width="1.2" height="3.2" rx="0.60" fill="#1fa038"/>
<rect x="218.6" y="106.10" width="1.9" height="3.2" rx="0.95" fill="#1fa038"/>
<rect x="221.7" y="106.10" width="1.5" height="3.2" rx="0.75" fill="#1fa038"/>
<rect x="225.0" y="106.10" width="1.5" height="3.2" rx="0.75" fill="#1fa038"/>
<rect x="227.7" y="106.10" width="1.3" height="3.2" rx="0.65" fill="#1fa038"/>
<rect x="235.0" y="106.10" width="1.8" height="3.2" rx="0.90" fill="#1fa038"/>
<rect x="239.0" y="106.10" width="2.0" height="3.2" rx="1.00" fill="#1fa038"/>
<rect x="249.2" y="106.10" width="0.9" height="3.2" rx="0.45" fill="#1fa038"/>
<rect x="251.4" y="106.10" width="1.4" height="3.2" rx="0.70" fill="#1fa038"/>
<rect x="254.1" y="106.10" width="2.2" height="3.2" rx="1.10" fill="#1fa038"/>
<rect x="257.7" y="106.10" width="2.8" height="3.2" rx="1.30" fill="#1fa038"/>
<line x1="88.6" y1="114.5" x2="139.0" y2="114.5" stroke="#a9a9a9" stroke-width="1.25"/>
<rect x="88.6" y="112.50" width="3.7" height="3.2" rx="1.30" fill="#1fa038"/>
<rect x="93.7" y="112.50" width="1.3" height="3.2" rx="0.65" fill="#1fa038"/>
<rect x="96.8" y="112.50" width="5.5" height="3.2" rx="1.30" fill="#1fa038"/>
<rect x="103.2" y="112.50" width="3.3" height="3.2" rx="1.30" fill="#1fa038"/>
<rect x="107.7" y="112.50" width="1.8" height="3.2" rx="0.90" fill="#1fa038"/>
<rect x="117.7" y="112.50" width="4.6" height="3.2" rx="1.30" fill="#1fa038"/>
<rect x="127.7" y="112.50" width="11.3" height="3.2" rx="1.30" fill="#1fa038"/>
<line x1="88.6" y1="120.5" x2="139.0" y2="120.5" stroke="#a9a9a9" stroke-width="1.25"/>
<rect x="88.6" y="118.90" width="3.7" height="3.2" rx="1.30" fill="#1fa038"/>
<rect x="93.7" y="118.90" width="1.3" height="3.2" rx="0.65" fill="#1fa038"/>
<rect x="96.8" y="118.90" width="5.5" height="3.2" rx="1.30" fill="#1fa038"/>
<rect x="103.2" y="118.90" width="3.3" height="3.2" rx="1.30" fill="#1fa038"/>
<rect x="107.7" y="118.90" width="1.8" height="3.2" rx="0.90" fill="#1fa038"/>
<rect x="117.7" y="118.90" width="4.6" height="3.2" rx="1.30" fill="#1fa038"/>
<rect x="127.7" y="118.90" width="11.3" height="3.2" rx="1.30" fill="#1fa038"/>
<line x1="88.3" y1="126.5" x2="158.1" y2="126.5" stroke="#a9a9a9" stroke-width="1.25"/>
<rect x="88.3" y="125.30" width="0.7" height="3.2" rx="0.35" fill="#1fa038"/>
<rect x="94.1" y="125.30" width="1.3" height="3.2" rx="0.65" fill="#1fa038"/>
<rect x="97.4" y="125.30" width="6.7" height="3.2" rx="1.30" fill="#1fa038"/>
<rect x="105.0" y="125.30" width="3.3" height="3.2" rx="1.30" fill="#1fa038"/>
<rect x="111.7" y="125.30" width="2.0" height="3.2" rx="1.00" fill="#1fa038"/>
<rect x="124.1" y="125.30" width="4.2" height="3.2" rx="1.30" fill="#1fa038"/>
<rect x="130.5" y="125.30" width="13.6" height="3.2" rx="1.30" fill="#1fa038"/>
<rect x="145.5" y="125.30" width="1.9" height="3.2" rx="0.95" fill="#1fa038"/>
<rect x="149.2" y="125.30" width="1.8" height="3.2" rx="0.90" fill="#1fa038"/>
<rect x="157.2" y="125.30" width="0.9" height="3.2" rx="0.45" fill="#1fa038"/>
<line x1="88.3" y1="133.5" x2="158.1" y2="133.5" stroke="#a9a9a9" stroke-width="1.25"/>
<rect x="88.3" y="131.70" width="0.7" height="3.2" rx="0.35" fill="#1fa038"/>
<rect x="94.1" y="131.70" width="1.3" height="3.2" rx="0.65" fill="#1fa038"/>
<rect x="97.4" y="131.70" width="6.7" height="3.2" rx="1.30" fill="#1fa038"/>
<rect x="105.0" y="131.70" width="3.3" height="3.2" rx="1.30" fill="#1fa038"/>
<rect x="111.7" y="131.70" width="2.0" height="3.2" rx="1.00" fill="#1fa038"/>
<rect x="124.1" y="131.70" width="4.2" height="3.2" rx="1.30" fill="#1fa038"/>
<rect x="130.5" y="131.70" width="13.6" height="3.2" rx="1.30" fill="#1fa038"/>
<rect x="145.5" y="131.70" width="1.9" height="3.2" rx="0.95" fill="#1fa038"/>
<rect x="149.2" y="131.70" width="1.8" height="3.2" rx="0.90" fill="#1fa038"/>
<rect x="157.2" y="131.70" width="0.9" height="3.2" rx="0.45" fill="#1fa038"/>
<line x1="88.3" y1="139.5" x2="179.2" y2="139.5" stroke="#a9a9a9" stroke-width="1.25"/>
<rect x="88.3" y="138.10" width="0.7" height="3.2" rx="0.35" fill="#1fa038"/>
<rect x="103.7" y="138.10" width="0.9" height="3.2" rx="0.45" fill="#1fa038"/>
<rect x="109.9" y="138.10" width="0.9" height="3.2" rx="0.45" fill="#1fa038"/>
<rect x="112.3" y="138.10" width="6.3" height="3.2" rx="1.30" fill="#1fa038"/>
<rect x="119.9" y="138.10" width="2.9" height="3.2" rx="1.30" fill="#1fa038"/>
<rect x="129.5" y="138.10" width="1.9" height="3.2" rx="0.95" fill="#1fa038"/>
<rect x="141.4" y="138.10" width="4.5" height="3.2" rx="1.30" fill="#1fa038"/>
<rect x="147.7" y="138.10" width="14.6" height="3.2" rx="1.30" fill="#1fa038"/>
<rect x="163.5" y="138.10" width="1.5" height="3.2" rx="0.75" fill="#1fa038"/>
<rect x="166.3" y="138.10" width="2.3" height="3.2" rx="1.15" fill="#1fa038"/>
<rect x="174.6" y="138.10" width="4.6" height="3.2" rx="1.30" fill="#1fa038"/>
<line x1="88.3" y1="146.5" x2="177.7" y2="146.5" stroke="#a9a9a9" stroke-width="1.25"/>
<rect x="88.3" y="144.50" width="0.7" height="3.2" rx="0.35" fill="#1fa038"/>
<rect x="103.2" y="144.50" width="0.9" height="3.2" rx="0.45" fill="#1fa038"/>
<rect x="109.5" y="144.50" width="0.9" height="3.2" rx="0.45" fill="#1fa038"/>
<rect x="112.3" y="144.50" width="6.3" height="3.2" rx="1.30" fill="#1fa038"/>
<rect x="119.9" y="144.50" width="2.9" height="3.2" rx="1.30" fill="#1fa038"/>
<rect x="128.6" y="144.50" width="1.9" height="3.2" rx="0.95" fill="#1fa038"/>
<rect x="140.5" y="144.50" width="4.5" height="3.2" rx="1.30" fill="#1fa038"/>
<rect x="146.8" y="144.50" width="13.7" height="3.2" rx="1.30" fill="#1fa038"/>
<rect x="162.8" y="144.50" width="0.9" height="3.2" rx="0.45" fill="#1fa038"/>
<rect x="165.0" y="144.50" width="2.2" height="3.2" rx="1.10" fill="#1fa038"/>
<rect x="173.2" y="144.50" width="4.5" height="3.2" rx="1.30" fill="#1fa038"/>
<line x1="88.6" y1="152.5" x2="206.8" y2="152.5" stroke="#a9a9a9" stroke-width="1.25"/>
<rect x="88.6" y="150.90" width="4.0" height="3.2" rx="1.30" fill="#1fa038"/>
<rect x="95.0" y="150.90" width="0.9" height="3.2" rx="0.45" fill="#1fa038"/>
<rect x="100.5" y="150.90" width="0.9" height="3.2" rx="0.45" fill="#1fa038"/>
<rect x="103.2" y="150.90" width="6.3" height="3.2" rx="1.30" fill="#1fa038"/>
<rect x="116.3" y="150.90" width="2.3" height="3.2" rx="1.15" fill="#1fa038"/>
<rect x="125.4" y="150.90" width="1.8" height="3.2" rx="0.90" fill="#1fa038"/>
<rect x="156.8" y="150.90" width="4.2" height="3.2" rx="1.30" fill="#1fa038"/>
<rect x="169.5" y="150.90" width="17.3" height="3.2" rx="1.30" fill="#1fa038"/>
<rect x="188.6" y="150.90" width="0.9" height="3.2" rx="0.45" fill="#1fa038"/>
<rect x="197.2" y="150.90" width="2.3" height="3.2" rx="1.15" fill="#1fa038"/>
<rect x="202.3" y="150.90" width="4.5" height="3.2" rx="1.30" fill="#1fa038"/>
<line x1="88.6" y1="158.5" x2="186.3" y2="158.5" stroke="#a9a9a9" stroke-width="1.25"/>
<rect x="88.6" y="157.30" width="4.0" height="3.2" rx="1.30" fill="#1fa038"/>
<rect x="95.0" y="157.30" width="0.9" height="3.2" rx="0.45" fill="#1fa038"/>
<rect x="100.5" y="157.30" width="0.9" height="3.2" rx="0.45" fill="#1fa038"/>
<rect x="103.2" y="157.30" width="6.3" height="3.2" rx="1.30" fill="#1fa038"/>
<rect x="116.3" y="157.30" width="2.3" height="3.2" rx="1.15" fill="#1fa038"/>
<rect x="125.4" y="157.30" width="1.8" height="3.2" rx="0.90" fill="#1fa038"/>
<rect x="135.9" y="157.30" width="4.2" height="3.2" rx="1.30" fill="#1fa038"/>
<rect x="149.0" y="157.30" width="16.9" height="3.2" rx="1.30" fill="#1fa038"/>
<rect x="168.3" y="157.30" width="0.9" height="3.2" rx="0.45" fill="#1fa038"/>
<rect x="177.2" y="157.30" width="2.1" height="3.2" rx="1.05" fill="#1fa038"/>
<rect x="182.0" y="157.30" width="4.3" height="3.2" rx="1.30" fill="#1fa038"/>
<line x1="88.6" y1="165.5" x2="217.2" y2="165.5" stroke="#a9a9a9" stroke-width="1.25"/>
<rect x="88.6" y="163.70" width="3.7" height="3.2" rx="1.30" fill="#1fa038"/>
<rect x="96.3" y="163.70" width="1.1" height="3.2" rx="0.55" fill="#1fa038"/>
<rect x="99.2" y="163.70" width="6.7" height="3.2" rx="1.30" fill="#1fa038"/>
<rect x="108.6" y="163.70" width="2.8" height="3.2" rx="1.30" fill="#1fa038"/>
<rect x="181.0" y="163.70" width="2.2" height="3.2" rx="1.10" fill="#1fa038"/>
<rect x="184.6" y="163.70" width="1.7" height="3.2" rx="0.85" fill="#1fa038"/>
<rect x="187.4" y="163.70" width="1.8" height="3.2" rx="0.90" fill="#1fa038"/>
<rect x="191.0" y="163.70" width="14.9" height="3.2" rx="1.30" fill="#1fa038"/>
<rect x="207.4" y="163.70" width="0.9" height="3.2" rx="0.45" fill="#1fa038"/>
<rect x="209.5" y="163.70" width="2.4" height="3.2" rx="1.20" fill="#1fa038"/>
<rect x="213.2" y="163.70" width="4.0" height="3.2" rx="1.30" fill="#1fa038"/>
<line x1="88.6" y1="171.5" x2="152.3" y2="171.5" stroke="#a9a9a9" stroke-width="1.25"/>
<rect x="88.6" y="170.10" width="3.7" height="3.2" rx="1.30" fill="#1fa038"/>
<rect x="96.3" y="170.10" width="1.4" height="3.2" rx="0.70" fill="#1fa038"/>
<rect x="99.5" y="170.10" width="6.4" height="3.2" rx="1.30" fill="#1fa038"/>
<rect x="107.7" y="170.10" width="3.3" height="3.2" rx="1.30" fill="#1fa038"/>
<rect x="116.3" y="170.10" width="1.4" height="3.2" rx="0.70" fill="#1fa038"/>
<rect x="119.9" y="170.10" width="4.7" height="3.2" rx="1.30" fill="#1fa038"/>
<rect x="126.5" y="170.10" width="14.0" height="3.2" rx="1.30" fill="#1fa038"/>
<rect x="142.3" y="170.10" width="1.2" height="3.2" rx="0.60" fill="#1fa038"/>
<rect x="145.5" y="170.10" width="2.2" height="3.2" rx="1.10" fill="#1fa038"/>
<rect x="149.0" y="170.10" width="3.3" height="3.2" rx="1.30" fill="#1fa038"/>
<line x1="88.6" y1="178.5" x2="145.9" y2="178.5" stroke="#a9a9a9" stroke-width="1.25"/>
<rect x="88.6" y="176.50" width="2.2" height="3.2" rx="1.10" fill="#1fa038"/>
<rect x="92.3" y="176.50" width="2.2" height="3.2" rx="1.10" fill="#1fa038"/>
<rect x="105.9" y="176.50" width="1.3" height="3.2" rx="0.65" fill="#1fa038"/>
<rect x="109.0" y="176.50" width="1.5" height="3.2" rx="0.75" fill="#1fa038"/>
<rect x="120.5" y="176.50" width="0.9" height="3.2" rx="0.45" fill="#1fa038"/>
<rect x="122.3" y="176.50" width="1.2" height="3.2" rx="0.60" fill="#1fa038"/>
<rect x="128.6" y="176.50" width="1.1" height="3.2" rx="0.55" fill="#1fa038"/>
<rect x="130.5" y="176.50" width="1.4" height="3.2" rx="0.70" fill="#1fa038"/>
<rect x="140.1" y="176.50" width="5.8" height="3.2" rx="1.30" fill="#1fa038"/>
<line x1="88.6" y1="184.5" x2="143.7" y2="184.5" stroke="#a9a9a9" stroke-width="1.25"/>
<rect x="88.6" y="182.90" width="2.2" height="3.2" rx="1.10" fill="#1fa038"/>
<rect x="92.3" y="182.90" width="2.2" height="3.2" rx="1.10" fill="#1fa038"/>
<rect x="105.4" y="182.90" width="1.4" height="3.2" rx="0.70" fill="#1fa038"/>
<rect x="108.6" y="182.90" width="1.5" height="3.2" rx="0.75" fill="#1fa038"/>
<rect x="119.9" y="182.90" width="1.1" height="3.2" rx="0.55" fill="#1fa038"/>
<rect x="121.9" y="182.90" width="1.3" height="3.2" rx="0.65" fill="#1fa038"/>
<rect x="128.1" y="182.90" width="1.1" height="3.2" rx="0.55" fill="#1fa038"/>
<rect x="130.1" y="182.90" width="1.4" height="3.2" rx="0.70" fill="#1fa038"/>
<rect x="137.7" y="182.90" width="6.0" height="3.2" rx="1.30" fill="#1fa038"/>
<line x1="88.6" y1="190.5" x2="119.2" y2="190.5" stroke="#a9a9a9" stroke-width="1.25"/>
<rect x="88.6" y="189.30" width="16.8" height="3.2" rx="1.30" fill="#1fa038"/>
<rect x="116.8" y="189.30" width="2.4" height="3.2" rx="1.20" fill="#1fa038"/>
<line x1="88.6" y1="197.5" x2="119.2" y2="197.5" stroke="#a9a9a9" stroke-width="1.25"/>
<rect x="88.6" y="195.70" width="16.8" height="3.2" rx="1.30" fill="#1fa038"/>
<rect x="116.8" y="195.70" width="2.4" height="3.2" rx="1.20" fill="#1fa038"/>
<line x1="88.6" y1="203.5" x2="186.3" y2="203.5" stroke="#a9a9a9" stroke-width="1.25"/>
<rect x="88.6" y="202.10" width="2.2" height="3.2" rx="1.10" fill="#1fa038"/>
<rect x="92.3" y="202.10" width="0.9" height="3.2" rx="0.45" fill="#1fa038"/>
<rect x="94.5" y="202.10" width="0.9" height="3.2" rx="0.45" fill="#1fa038"/>
<rect x="99.2" y="202.10" width="2.2" height="3.2" rx="1.10" fill="#1fa038"/>
<rect x="103.7" y="202.10" width="3.1" height="3.2" rx="1.30" fill="#1fa038"/>
<rect x="108.3" y="202.10" width="3.1" height="3.2" rx="1.30" fill="#1fa038"/>
<rect x="114.1" y="202.10" width="1.3" height="3.2" rx="0.65" fill="#1fa038"/>
<rect x="118.1" y="202.10" width="6.9" height="3.2" rx="1.30" fill="#1fa038"/>
<rect x="129.5" y="202.10" width="2.2" height="3.2" rx="1.10" fill="#1fa038"/>
<rect x="150.5" y="202.10" width="5.4" height="3.2" rx="1.30" fill="#1fa038"/>
<rect x="157.7" y="202.10" width="3.7" height="3.2" rx="1.30" fill="#1fa038"/>
<rect x="169.5" y="202.10" width="4.0" height="3.2" rx="1.30" fill="#1fa038"/>
<rect x="180.5" y="202.10" width="2.7" height="3.2" rx="1.30" fill="#1fa038"/>
<rect x="184.1" y="202.10" width="2.2" height="3.2" rx="1.10" fill="#1fa038"/>
<line x1="88.6" y1="210.5" x2="183.5" y2="210.5" stroke="#a9a9a9" stroke-width="1.25"/>
<rect x="88.6" y="208.50" width="2.2" height="3.2" rx="1.10" fill="#1fa038"/>
<rect x="92.3" y="208.50" width="0.9" height="3.2" rx="0.45" fill="#1fa038"/>
<rect x="94.5" y="208.50" width="0.9" height="3.2" rx="0.45" fill="#1fa038"/>
<rect x="96.8" y="208.50" width="1.3" height="3.2" rx="0.65" fill="#1fa038"/>
<rect x="101.7" y="208.50" width="2.4" height="3.2" rx="1.20" fill="#1fa038"/>
<rect x="106.8" y="208.50" width="2.4" height="3.2" rx="1.20" fill="#1fa038"/>
<rect x="112.6" y="208.50" width="1.5" height="3.2" rx="0.75" fill="#1fa038"/>
<rect x="116.3" y="208.50" width="6.9" height="3.2" rx="1.30" fill="#1fa038"/>
<rect x="127.7" y="208.50" width="2.2" height="3.2" rx="1.10" fill="#1fa038"/>
<rect x="147.7" y="208.50" width="6.4" height="3.2" rx="1.30" fill="#1fa038"/>
<rect x="155.9" y="208.50" width="3.3" height="3.2" rx="1.30" fill="#1fa038"/>
<rect x="167.7" y="208.50" width="3.7" height="3.2" rx="1.30" fill="#1fa038"/>
<rect x="178.3" y="208.50" width="2.2" height="3.2" rx="1.10" fill="#1fa038"/>
<rect x="181.4" y="208.50" width="2.1" height="3.2" rx="1.05" fill="#1fa038"/>
<line x1="88.6" y1="216.5" x2="168.3" y2="216.5" stroke="#a9a9a9" stroke-width="1.25"/>
<rect x="88.6" y="214.90" width="2.2" height="3.2" rx="1.10" fill="#1fa038"/>
<rect x="92.3" y="214.90" width="1.1" height="3.2" rx="0.55" fill="#1fa038"/>
<rect x="94.5" y="214.90" width="1.0" height="3.2" rx="0.50" fill="#1fa038"/>
<rect x="96.8" y="214.90" width="1.3" height="3.2" rx="0.65" fill="#1fa038"/>
<rect x="101.7" y="214.90" width="2.4" height="3.2" rx="1.20" fill="#1fa038"/>
<rect x="105.9" y="214.90" width="2.4" height="3.2" rx="1.20" fill="#1fa038"/>
<rect x="111.9" y="214.90" width="1.3" height="3.2" rx="0.65" fill="#1fa038"/>
<rect x="115.0" y="214.90" width="7.3" height="3.2" rx="1.30" fill="#1fa038"/>
<rect x="127.7" y="214.90" width="1.5" height="3.2" rx="0.75" fill="#1fa038"/>
<rect x="134.1" y="214.90" width="1.8" height="3.2" rx="0.90" fill="#1fa038"/>
<rect x="136.8" y="214.90" width="3.7" height="3.2" rx="1.30" fill="#1fa038"/>
<rect x="142.3" y="214.90" width="3.6" height="3.2" rx="1.30" fill="#1fa038"/>
<rect x="152.6" y="214.90" width="1.1" height="3.2" rx="0.55" fill="#1fa038"/>
<rect x="155.0" y="214.90" width="2.7" height="3.2" rx="1.30" fill="#1fa038"/>
<rect x="162.6" y="214.90" width="2.4" height="3.2" rx="1.20" fill="#1fa038"/>
<rect x="166.8" y="214.90" width="1.5" height="3.2" rx="0.75" fill="#1fa038"/>
<line x1="88.6" y1="222.5" x2="168.3" y2="222.5" stroke="#a9a9a9" stroke-width="1.25"/>
<rect x="88.6" y="221.30" width="2.2" height="3.2" rx="1.10" fill="#1fa038"/>
<rect x="92.3" y="221.30" width="1.1" height="3.2" rx="0.55" fill="#1fa038"/>
<rect x="94.5" y="221.30" width="1.0" height="3.2" rx="0.50" fill="#1fa038"/>
<rect x="96.8" y="221.30" width="1.3" height="3.2" rx="0.65" fill="#1fa038"/>
<rect x="101.7" y="221.30" width="2.4" height="3.2" rx="1.20" fill="#1fa038"/>
<rect x="105.9" y="221.30" width="2.4" height="3.2" rx="1.20" fill="#1fa038"/>
<rect x="111.9" y="221.30" width="1.3" height="3.2" rx="0.65" fill="#1fa038"/>
<rect x="115.0" y="221.30" width="7.3" height="3.2" rx="1.30" fill="#1fa038"/>
<rect x="127.7" y="221.30" width="1.5" height="3.2" rx="0.75" fill="#1fa038"/>
<rect x="134.1" y="221.30" width="1.8" height="3.2" rx="0.90" fill="#1fa038"/>
<rect x="136.8" y="221.30" width="3.7" height="3.2" rx="1.30" fill="#1fa038"/>
<rect x="142.3" y="221.30" width="3.6" height="3.2" rx="1.30" fill="#1fa038"/>
<rect x="152.6" y="221.30" width="1.1" height="3.2" rx="0.55" fill="#1fa038"/>
<rect x="155.0" y="221.30" width="2.7" height="3.2" rx="1.30" fill="#1fa038"/>
<rect x="162.6" y="221.30" width="2.4" height="3.2" rx="1.20" fill="#1fa038"/>
<rect x="166.8" y="221.30" width="1.5" height="3.2" rx="0.75" fill="#1fa038"/>
<line x1="88.6" y1="229.5" x2="153.7" y2="229.5" stroke="#a9a9a9" stroke-width="1.25"/>
<rect x="88.6" y="227.70" width="8.8" height="3.2" rx="1.30" fill="#1fa038"/>
<rect x="98.6" y="227.70" width="1.5" height="3.2" rx="0.75" fill="#1fa038"/>
<rect x="104.1" y="227.70" width="1.3" height="3.2" rx="0.65" fill="#1fa038"/>
<rect x="106.8" y="227.70" width="1.5" height="3.2" rx="0.75" fill="#1fa038"/>
<rect x="109.5" y="227.70" width="1.9" height="3.2" rx="0.95" fill="#1fa038"/>
<rect x="112.8" y="227.70" width="9.5" height="3.2" rx="1.30" fill="#1fa038"/>
<rect x="126.8" y="227.70" width="4.6" height="3.2" rx="1.30" fill="#1fa038"/>
<rect x="135.0" y="227.70" width="6.9" height="3.2" rx="1.30" fill="#1fa038"/>
<rect x="143.2" y="227.70" width="1.4" height="3.2" rx="0.70" fill="#1fa038"/>
<rect x="145.9" y="227.70" width="1.8" height="3.2" rx="0.90" fill="#1fa038"/>
<rect x="149.5" y="227.70" width="1.9" height="3.2" rx="0.95" fill="#1fa038"/>
<rect x="152.6" y="227.70" width="1.1" height="3.2" rx="0.55" fill="#1fa038"/>
<line x1="88.6" y1="235.5" x2="153.7" y2="235.5" stroke="#a9a9a9" stroke-width="1.25"/>
<rect x="88.6" y="234.10" width="8.8" height="3.2" rx="1.30" fill="#1fa038"/>
<rect x="98.6" y="234.10" width="1.5" height="3.2" rx="0.75" fill="#1fa038"/>
<rect x="104.1" y="234.10" width="1.3" height="3.2" rx="0.65" fill="#1fa038"/>
<rect x="106.8" y="234.10" width="1.5" height="3.2" rx="0.75" fill="#1fa038"/>
<rect x="109.5" y="234.10" width="1.9" height="3.2" rx="0.95" fill="#1fa038"/>
<rect x="112.8" y="234.10" width="9.5" height="3.2" rx="1.30" fill="#1fa038"/>
<rect x="126.8" y="234.10" width="4.6" height="3.2" rx="1.30" fill="#1fa038"/>
<rect x="135.0" y="234.10" width="6.9" height="3.2" rx="1.30" fill="#1fa038"/>
<rect x="143.2" y="234.10" width="1.4" height="3.2" rx="0.70" fill="#1fa038"/>
<rect x="145.9" y="234.10" width="1.8" height="3.2" rx="0.90" fill="#1fa038"/>
<rect x="149.5" y="234.10" width="1.9" height="3.2" rx="0.95" fill="#1fa038"/>
<rect x="152.6" y="234.10" width="1.1" height="3.2" rx="0.55" fill="#1fa038"/>
<line x1="88.6" y1="242.5" x2="154.1" y2="242.5" stroke="#a9a9a9" stroke-width="1.25"/>
<rect x="88.6" y="240.50" width="6.8" height="3.2" rx="1.30" fill="#1fa038"/>
<rect x="101.0" y="240.50" width="1.6" height="3.2" rx="0.80" fill="#1fa038"/>
<rect x="103.7" y="240.50" width="1.3" height="3.2" rx="0.65" fill="#1fa038"/>
<rect x="106.5" y="240.50" width="1.2" height="3.2" rx="0.60" fill="#1fa038"/>
<rect x="109.0" y="240.50" width="1.5" height="3.2" rx="0.75" fill="#1fa038"/>
<rect x="112.3" y="240.50" width="8.5" height="3.2" rx="1.30" fill="#1fa038"/>
<rect x="122.3" y="240.50" width="4.5" height="3.2" rx="1.30" fill="#1fa038"/>
<rect x="131.9" y="240.50" width="4.9" height="3.2" rx="1.30" fill="#1fa038"/>
<rect x="138.6" y="240.50" width="1.3" height="3.2" rx="0.65" fill="#1fa038"/>
<rect x="141.4" y="240.50" width="1.4" height="3.2" rx="0.70" fill="#1fa038"/>
<rect x="145.0" y="240.50" width="2.2" height="3.2" rx="1.10" fill="#1fa038"/>
<rect x="149.0" y="240.50" width="1.1" height="3.2" rx="0.55" fill="#1fa038"/>
<rect x="152.6" y="240.50" width="1.5" height="3.2" rx="0.75" fill="#1fa038"/>
<line x1="88.6" y1="248.5" x2="154.1" y2="248.5" stroke="#a9a9a9" stroke-width="1.25"/>
<rect x="88.6" y="246.90" width="6.8" height="3.2" rx="1.30" fill="#1fa038"/>
<rect x="101.0" y="246.90" width="1.6" height="3.2" rx="0.80" fill="#1fa038"/>
<rect x="103.7" y="246.90" width="1.3" height="3.2" rx="0.65" fill="#1fa038"/>
<rect x="106.5" y="246.90" width="1.2" height="3.2" rx="0.60" fill="#1fa038"/>
<rect x="109.0" y="246.90" width="1.5" height="3.2" rx="0.75" fill="#1fa038"/>
<rect x="112.3" y="246.90" width="8.5" height="3.2" rx="1.30" fill="#1fa038"/>
<rect x="122.3" y="246.90" width="4.5" height="3.2" rx="1.30" fill="#1fa038"/>
<rect x="131.9" y="246.90" width="4.9" height="3.2" rx="1.30" fill="#1fa038"/>
<rect x="138.6" y="246.90" width="1.3" height="3.2" rx="0.65" fill="#1fa038"/>
<rect x="141.4" y="246.90" width="1.4" height="3.2" rx="0.70" fill="#1fa038"/>
<rect x="145.0" y="246.90" width="2.2" height="3.2" rx="1.10" fill="#1fa038"/>
<rect x="149.0" y="246.90" width="1.1" height="3.2" rx="0.55" fill="#1fa038"/>
<rect x="152.6" y="246.90" width="1.5" height="3.2" rx="0.75" fill="#1fa038"/>
<line x1="88.6" y1="254.5" x2="152.6" y2="254.5" stroke="#a9a9a9" stroke-width="1.25"/>
<rect x="88.6" y="253.30" width="5.5" height="3.2" rx="1.30" fill="#1fa038"/>
<rect x="98.1" y="253.30" width="1.4" height="3.2" rx="0.70" fill="#1fa038"/>
<rect x="101.4" y="253.30" width="1.8" height="3.2" rx="0.90" fill="#1fa038"/>
<rect x="104.6" y="253.30" width="1.9" height="3.2" rx="0.95" fill="#1fa038"/>
<rect x="107.7" y="253.30" width="0.9" height="3.2" rx="0.45" fill="#1fa038"/>
<rect x="109.2" y="253.30" width="10.0" height="3.2" rx="1.30" fill="#1fa038"/>
<rect x="120.5" y="253.30" width="4.1" height="3.2" rx="1.30" fill="#1fa038"/>
<rect x="126.5" y="253.30" width="16.7" height="3.2" rx="1.30" fill="#1fa038"/>
<rect x="144.6" y="253.30" width="1.9" height="3.2" rx="0.95" fill="#1fa038"/>
<rect x="147.7" y="253.30" width="1.3" height="3.2" rx="0.65" fill="#1fa038"/>
<rect x="150.5" y="253.30" width="2.1" height="3.2" rx="1.05" fill="#1fa038"/>
<line x1="88.6" y1="261.5" x2="152.6" y2="261.5" stroke="#a9a9a9" stroke-width="1.25"/>
<rect x="88.6" y="259.70" width="5.5" height="3.2" rx="1.30" fill="#1fa038"/>
<rect x="98.1" y="259.70" width="1.4" height="3.2" rx="0.70" fill="#1fa038"/>
<rect x="101.4" y="259.70" width="1.8" height="3.2" rx="0.90" fill="#1fa038"/>
<rect x="104.6" y="259.70" width="1.9" height="3.2" rx="0.95" fill="#1fa038"/>
<rect x="107.7" y="259.70" width="0.9" height="3.2" rx="0.45" fill="#1fa038"/>
<rect x="109.2" y="259.70" width="10.0" height="3.2" rx="1.30" fill="#1fa038"/>
<rect x="120.5" y="259.70" width="4.1" height="3.2" rx="1.30" fill="#1fa038"/>
<rect x="126.5" y="259.70" width="16.7" height="3.2" rx="1.30" fill="#1fa038"/>
<rect x="144.6" y="259.70" width="1.9" height="3.2" rx="0.95" fill="#1fa038"/>
<rect x="147.7" y="259.70" width="1.3" height="3.2" rx="0.65" fill="#1fa038"/>
<rect x="150.5" y="259.70" width="2.1" height="3.2" rx="1.05" fill="#1fa038"/>
<line x1="88.6" y1="267.5" x2="193.2" y2="267.5" stroke="#a9a9a9" stroke-width="1.25"/>
<rect x="88.6" y="266.10" width="27.3" height="3.2" rx="1.30" fill="#1fa038"/>
<rect x="122.3" y="266.10" width="1.8" height="3.2" rx="0.90" fill="#1fa038"/>
<rect x="126.8" y="266.10" width="1.5" height="3.2" rx="0.75" fill="#1fa038"/>
<rect x="132.6" y="266.10" width="1.5" height="3.2" rx="0.75" fill="#1fa038"/>
<rect x="135.0" y="266.10" width="1.8" height="3.2" rx="0.90" fill="#1fa038"/>
<rect x="143.2" y="266.10" width="9.4" height="3.2" rx="1.30" fill="#1fa038"/>
<rect x="155.0" y="266.10" width="4.0" height="3.2" rx="1.30" fill="#1fa038"/>
<rect x="170.1" y="266.10" width="5.6" height="3.2" rx="1.30" fill="#1fa038"/>
<rect x="177.0" y="266.10" width="1.2" height="3.2" rx="0.60" fill="#1fa038"/>
<rect x="179.0" y="266.10" width="1.4" height="3.2" rx="0.70" fill="#1fa038"/>
<rect x="183.0" y="266.10" width="2.0" height="3.2" rx="1.00" fill="#1fa038"/>
<rect x="192.3" y="266.10" width="0.9" height="3.2" rx="0.45" fill="#1fa038"/>
<line x1="88.6" y1="274.5" x2="192.6" y2="274.5" stroke="#a9a9a9" stroke-width="1.25"/>
<rect x="88.6" y="272.50" width="25.9" height="3.2" rx="1.30" fill="#1fa038"/>
<rect x="121.9" y="272.50" width="1.6" height="3.2" rx="0.80" fill="#1fa038"/>
<rect x="126.3" y="272.50" width="1.4" height="3.2" rx="0.70" fill="#1fa038"/>
<rect x="131.9" y="272.50" width="1.5" height="3.2" rx="0.75" fill="#1fa038"/>
<rect x="134.5" y="272.50" width="1.4" height="3.2" rx="0.70" fill="#1fa038"/>
<rect x="142.8" y="272.50" width="8.6" height="3.2" rx="1.30" fill="#1fa038"/>
<rect x="154.1" y="272.50" width="3.6" height="3.2" rx="1.30" fill="#1fa038"/>
<rect x="169.0" y="272.50" width="5.5" height="3.2" rx="1.30" fill="#1fa038"/>
<rect x="175.9" y="272.50" width="1.1" height="3.2" rx="0.55" fill="#1fa038"/>
<rect x="177.6" y="272.50" width="1.2" height="3.2" rx="0.60" fill="#1fa038"/>
<rect x="182.3" y="272.50" width="1.8" height="3.2" rx="0.90" fill="#1fa038"/>
<rect x="189.5" y="272.50" width="1.5" height="3.2" rx="0.75" fill="#1fa038"/>
<rect x="191.7" y="272.50" width="0.9" height="3.2" rx="0.45" fill="#1fa038"/>
<line x1="88.6" y1="280.5" x2="164.5" y2="280.5" stroke="#a9a9a9" stroke-width="1.25"/>
<rect x="88.6" y="278.90" width="4.6" height="3.2" rx="1.30" fill="#1fa038"/>
<rect x="94.1" y="278.90" width="1.1" height="3.2" rx="0.55" fill="#1fa038"/>
<rect x="96.3" y="278.90" width="1.1" height="3.2" rx="0.55" fill="#1fa038"/>
<rect x="98.6" y="278.90" width="1.3" height="3.2" rx="0.65" fill="#1fa038"/>
<rect x="106.8" y="278.90" width="1.8" height="3.2" rx="0.90" fill="#1fa038"/>
<rect x="109.9" y="278.90" width="1.5" height="3.2" rx="0.75" fill="#1fa038"/>
<rect x="112.3" y="278.90" width="9.1" height="3.2" rx="1.30" fill="#1fa038"/>
<rect x="123.2" y="278.90" width="4.0" height="3.2" rx="1.30" fill="#1fa038"/>
<rect x="133.2" y="278.90" width="8.2" height="3.2" rx="1.30" fill="#1fa038"/>
<rect x="143.2" y="278.90" width="1.8" height="3.2" rx="0.90" fill="#1fa038"/>
<rect x="149.5" y="278.90" width="1.3" height="3.2" rx="0.65" fill="#1fa038"/>
<rect x="151.7" y="278.90" width="1.5" height="3.2" rx="0.75" fill="#1fa038"/>
<rect x="157.2" y="278.90" width="2.0" height="3.2" rx="1.00" fill="#1fa038"/>
<rect x="163.2" y="278.90" width="1.3" height="3.2" rx="0.65" fill="#1fa038"/>
<line x1="88.6" y1="286.5" x2="164.5" y2="286.5" stroke="#a9a9a9" stroke-width="1.25"/>
<rect x="88.6" y="285.30" width="4.6" height="3.2" rx="1.30" fill="#1fa038"/>
<rect x="94.1" y="285.30" width="1.1" height="3.2" rx="0.55" fill="#1fa038"/>
<rect x="96.3" y="285.30" width="1.1" height="3.2" rx="0.55" fill="#1fa038"/>
<rect x="98.6" y="285.30" width="1.3" height="3.2" rx="0.65" fill="#1fa038"/>
<rect x="106.8" y="285.30" width="1.8" height="3.2" rx="0.90" fill="#1fa038"/>
<rect x="109.9" y="285.30" width="1.5" height="3.2" rx="0.75" fill="#1fa038"/>
<rect x="112.3" y="285.30" width="9.1" height="3.2" rx="1.30" fill="#1fa038"/>
<rect x="123.2" y="285.30" width="4.0" height="3.2" rx="1.30" fill="#1fa038"/>
<rect x="133.2" y="285.30" width="8.2" height="3.2" rx="1.30" fill="#1fa038"/>
<rect x="143.2" y="285.30" width="1.8" height="3.2" rx="0.90" fill="#1fa038"/>
<rect x="149.5" y="285.30" width="1.3" height="3.2" rx="0.65" fill="#1fa038"/>
<rect x="151.7" y="285.30" width="1.5" height="3.2" rx="0.75" fill="#1fa038"/>
<rect x="157.2" y="285.30" width="2.0" height="3.2" rx="1.00" fill="#1fa038"/>
<rect x="163.2" y="285.30" width="1.3" height="3.2" rx="0.65" fill="#1fa038"/>
<line x1="88.6" y1="293.5" x2="269.0" y2="293.5" stroke="#a9a9a9" stroke-width="1.25"/>
<rect x="88.6" y="291.70" width="10.0" height="3.2" rx="1.30" fill="#1fa038"/>
<rect x="100.5" y="291.70" width="1.4" height="3.2" rx="0.70" fill="#1fa038"/>
<rect x="104.1" y="291.70" width="1.3" height="3.2" rx="0.65" fill="#1fa038"/>
<rect x="106.8" y="291.70" width="1.8" height="3.2" rx="0.90" fill="#1fa038"/>
<rect x="118.1" y="291.70" width="1.1" height="3.2" rx="0.55" fill="#1fa038"/>
<rect x="120.8" y="291.70" width="9.7" height="3.2" rx="1.30" fill="#1fa038"/>
<rect x="138.6" y="291.70" width="4.2" height="3.2" rx="1.30" fill="#1fa038"/>
<rect x="155.4" y="291.70" width="6.3" height="3.2" rx="1.30" fill="#1fa038"/>
<rect x="169.0" y="291.70" width="1.5" height="3.2" rx="0.75" fill="#1fa038"/>
<rect x="171.0" y="291.70" width="1.3" height="3.2" rx="0.65" fill="#1fa038"/>
<rect x="255.9" y="291.70" width="1.8" height="3.2" rx="0.90" fill="#1fa038"/>
<rect x="261.9" y="291.70" width="1.3" height="3.2" rx="0.65" fill="#1fa038"/>
<rect x="268.1" y="291.70" width="0.9" height="3.2" rx="0.45" fill="#1fa038"/>
<line x1="88.6" y1="299.5" x2="273.2" y2="299.5" stroke="#a9a9a9" stroke-width="1.25"/>
<rect x="88.6" y="298.10" width="10.0" height="3.2" rx="1.30" fill="#1fa038"/>
<rect x="100.5" y="298.10" width="1.4" height="3.2" rx="0.70" fill="#1fa038"/>
<rect x="104.1" y="298.10" width="1.3" height="3.2" rx="0.65" fill="#1fa038"/>
<rect x="106.8" y="298.10" width="1.8" height="3.2" rx="0.90" fill="#1fa038"/>
<rect x="118.1" y="298.10" width="1.1" height="3.2" rx="0.55" fill="#1fa038"/>
<rect x="120.8" y="298.10" width="9.7" height="3.2" rx="1.30" fill="#1fa038"/>
<rect x="138.6" y="298.10" width="4.2" height="3.2" rx="1.30" fill="#1fa038"/>
<rect x="155.4" y="298.10" width="6.3" height="3.2" rx="1.30" fill="#1fa038"/>
<rect x="169.0" y="298.10" width="1.5" height="3.2" rx="0.75" fill="#1fa038"/>
<rect x="171.0" y="298.10" width="1.3" height="3.2" rx="0.65" fill="#1fa038"/>
<rect x="260.1" y="298.10" width="1.8" height="3.2" rx="0.90" fill="#1fa038"/>
<rect x="265.9" y="298.10" width="1.5" height="3.2" rx="0.75" fill="#1fa038"/>
<rect x="272.3" y="298.10" width="0.9" height="3.2" rx="0.45" fill="#1fa038"/>
<line x1="88.6" y1="306.5" x2="211.9" y2="306.5" stroke="#a9a9a9" stroke-width="1.25"/>
<rect x="88.6" y="304.50" width="10.6" height="3.2" rx="1.30" fill="#1fa038"/>
<rect x="101.0" y="304.50" width="1.5" height="3.2" rx="0.75" fill="#1fa038"/>
<rect x="104.6" y="304.50" width="1.1" height="3.2" rx="0.55" fill="#1fa038"/>
<rect x="107.2" y="304.50" width="1.4" height="3.2" rx="0.70" fill="#1fa038"/>
<rect x="119.5" y="304.50" width="1.1" height="3.2" rx="0.55" fill="#1fa038"/>
<rect x="121.9" y="304.50" width="10.0" height="3.2" rx="1.30" fill="#1fa038"/>
<rect x="137.7" y="304.50" width="4.0" height="3.2" rx="1.30" fill="#1fa038"/>
<rect x="158.6" y="304.50" width="5.9" height="3.2" rx="1.30" fill="#1fa038"/>
<rect x="173.5" y="304.50" width="1.5" height="3.2" rx="0.75" fill="#1fa038"/>
<rect x="175.5" y="304.50" width="1.3" height="3.2" rx="0.65" fill="#1fa038"/>
<rect x="191.9" y="304.50" width="1.8" height="3.2" rx="0.90" fill="#1fa038"/>
<rect x="201.0" y="304.50" width="1.6" height="3.2" rx="0.80" fill="#1fa038"/>
<rect x="211.0" y="304.50" width="0.9" height="3.2" rx="0.45" fill="#1fa038"/>
<line x1="88.6" y1="312.5" x2="206.8" y2="312.5" stroke="#a9a9a9" stroke-width="1.25"/>
<rect x="88.6" y="310.90" width="10.6" height="3.2" rx="1.30" fill="#1fa038"/>
<rect x="101.0" y="310.90" width="1.5" height="3.2" rx="0.75" fill="#1fa038"/>
<rect x="104.6" y="310.90" width="1.1" height="3.2" rx="0.55" fill="#1fa038"/>
<rect x="107.2" y="310.90" width="1.4" height="3.2" rx="0.70" fill="#1fa038"/>
<rect x="119.5" y="310.90" width="1.1" height="3.2" rx="0.55" fill="#1fa038"/>
<rect x="121.9" y="310.90" width="10.0" height="3.2" rx="1.30" fill="#1fa038"/>
<rect x="137.7" y="310.90" width="4.0" height="3.2" rx="1.30" fill="#1fa038"/>
<rect x="158.6" y="310.90" width="5.9" height="3.2" rx="1.30" fill="#1fa038"/>
<rect x="173.5" y="310.90" width="1.5" height="3.2" rx="0.75" fill="#1fa038"/>
<rect x="175.5" y="310.90" width="1.3" height="3.2" rx="0.65" fill="#1fa038"/>
<rect x="187.4" y="310.90" width="1.6" height="3.2" rx="0.80" fill="#1fa038"/>
<rect x="195.9" y="310.90" width="1.3" height="3.2" rx="0.65" fill="#1fa038"/>
<rect x="205.9" y="310.90" width="0.9" height="3.2" rx="0.45" fill="#1fa038"/>
<line x1="88.6" y1="318.5" x2="143.2" y2="318.5" stroke="#a9a9a9" stroke-width="1.25"/>
<rect x="88.6" y="317.30" width="6.8" height="3.2" rx="1.30" fill="#1fa038"/>
<rect x="96.8" y="317.30" width="1.3" height="3.2" rx="0.65" fill="#1fa038"/>
<rect x="99.2" y="317.30" width="1.3" height="3.2" rx="0.65" fill="#1fa038"/>
<rect x="104.1" y="317.30" width="1.3" height="3.2" rx="0.65" fill="#1fa038"/>
<rect x="106.5" y="317.30" width="1.2" height="3.2" rx="0.60" fill="#1fa038"/>
<rect x="109.0" y="317.30" width="8.7" height="3.2" rx="1.30" fill="#1fa038"/>
<rect x="119.5" y="317.30" width="4.0" height="3.2" rx="1.30" fill="#1fa038"/>
<rect x="126.8" y="317.30" width="4.6" height="3.2" rx="1.30" fill="#1fa038"/>
<rect x="135.0" y="317.30" width="1.3" height="3.2" rx="0.65" fill="#1fa038"/>
<rect x="137.2" y="317.30" width="1.3" height="3.2" rx="0.65" fill="#1fa038"/>
<rect x="139.5" y="317.30" width="1.3" height="3.2" rx="0.65" fill="#1fa038"/>
<rect x="141.9" y="317.30" width="1.3" height="3.2" rx="0.65" fill="#1fa038"/>
<line x1="88.6" y1="325.5" x2="143.2" y2="325.5" stroke="#a9a9a9" stroke-width="1.25"/>
<rect x="88.6" y="323.70" width="6.8" height="3.2" rx="1.30" fill="#1fa038"/>
<rect x="96.8" y="323.70" width="1.3" height="3.2" rx="0.65" fill="#1fa038"/>
<rect x="99.2" y="323.70" width="1.3" height="3.2" rx="0.65" fill="#1fa038"/>
<rect x="104.1" y="323.70" width="1.3" height="3.2" rx="0.65" fill="#1fa038"/>
<rect x="106.5" y="323.70" width="1.2" height="3.2" rx="0.60" fill="#1fa038"/>
<rect x="109.0" y="323.70" width="8.7" height="3.2" rx="1.30" fill="#1fa038"/>
<rect x="119.5" y="323.70" width="4.0" height="3.2" rx="1.30" fill="#1fa038"/>
<rect x="126.8" y="323.70" width="4.6" height="3.2" rx="1.30" fill="#1fa038"/>
<rect x="135.0" y="323.70" width="1.3" height="3.2" rx="0.65" fill="#1fa038"/>
<rect x="137.2" y="323.70" width="1.3" height="3.2" rx="0.65" fill="#1fa038"/>
<rect x="139.5" y="323.70" width="1.3" height="3.2" rx="0.65" fill="#1fa038"/>
<rect x="141.9" y="323.70" width="1.3" height="3.2" rx="0.65" fill="#1fa038"/>
<line x1="88.6" y1="331.5" x2="148.6" y2="331.5" stroke="#a9a9a9" stroke-width="1.25"/>
<rect x="88.6" y="330.10" width="12.4" height="3.2" rx="1.30" fill="#1fa038"/>
<rect x="102.6" y="330.10" width="1.5" height="3.2" rx="0.75" fill="#1fa038"/>
<rect x="105.4" y="330.10" width="1.1" height="3.2" rx="0.55" fill="#1fa038"/>
<rect x="109.9" y="330.10" width="1.1" height="3.2" rx="0.55" fill="#1fa038"/>
<rect x="112.3" y="330.10" width="1.2" height="3.2" rx="0.60" fill="#1fa038"/>
<rect x="115.0" y="330.10" width="12.2" height="3.2" rx="1.30" fill="#1fa038"/>
<rect x="133.7" y="330.10" width="4.0" height="3.2" rx="1.30" fill="#1fa038"/>
<rect x="139.5" y="330.10" width="1.5" height="3.2" rx="0.75" fill="#1fa038"/>
<rect x="142.3" y="330.10" width="1.4" height="3.2" rx="0.70" fill="#1fa038"/>
<rect x="144.6" y="330.10" width="1.3" height="3.2" rx="0.65" fill="#1fa038"/>
<rect x="147.2" y="330.10" width="1.4" height="3.2" rx="0.70" fill="#1fa038"/>
<line x1="88.6" y1="338.5" x2="148.6" y2="338.5" stroke="#a9a9a9" stroke-width="1.25"/>
<rect x="88.6" y="336.50" width="12.4" height="3.2" rx="1.30" fill="#1fa038"/>
<rect x="102.6" y="336.50" width="1.5" height="3.2" rx="0.75" fill="#1fa038"/>
<rect x="105.4" y="336.50" width="1.1" height="3.2" rx="0.55" fill="#1fa038"/>
<rect x="109.9" y="336.50" width="1.1" height="3.2" rx="0.55" fill="#1fa038"/>
<rect x="112.3" y="336.50" width="1.2" height="3.2" rx="0.60" fill="#1fa038"/>
<rect x="115.0" y="336.50" width="12.2" height="3.2" rx="1.30" fill="#1fa038"/>
<rect x="133.7" y="336.50" width="4.0" height="3.2" rx="1.30" fill="#1fa038"/>
<rect x="139.5" y="336.50" width="1.5" height="3.2" rx="0.75" fill="#1fa038"/>
<rect x="142.3" y="336.50" width="1.4" height="3.2" rx="0.70" fill="#1fa038"/>
<rect x="144.6" y="336.50" width="1.3" height="3.2" rx="0.65" fill="#1fa038"/>
<rect x="147.2" y="336.50" width="1.4" height="3.2" rx="0.70" fill="#1fa038"/>
</g>
<g>
<line x1="286.9" y1="24.5" x2="358.5" y2="24.5" stroke="#b2b2b2" stroke-width="1.3"/>
<rect x="295.1" y="22.35" width="3.1" height="4.7" rx="1.35" fill="#f4c21c"/>
<rect x="310.0" y="22.55" width="10.0" height="4.3" rx="0.8" fill="#6aad45"/>
<rect x="327.8" y="22.55" width="4.6" height="4.3" rx="0.8" fill="#e2557f"/>
<line x1="286.9" y1="31.5" x2="358.5" y2="31.5" stroke="#b2b2b2" stroke-width="1.3"/>
<rect x="295.1" y="28.75" width="3.1" height="4.7" rx="1.35" fill="#f4c21c"/>
<rect x="310.0" y="28.95" width="10.0" height="4.3" rx="0.8" fill="#6aad45"/>
<rect x="327.8" y="28.95" width="4.6" height="4.3" rx="0.8" fill="#e2557f"/>
<line x1="286.9" y1="37.5" x2="356.4" y2="37.5" stroke="#b2b2b2" stroke-width="1.3"/>
<rect x="295.1" y="34.95" width="3.1" height="4.7" rx="1.35" fill="#f4c21c"/>
<rect x="310.0" y="35.15" width="10.0" height="4.3" rx="0.8" fill="#6aad45"/>
<rect x="327.8" y="35.15" width="4.6" height="4.3" rx="0.8" fill="#e2557f"/>
<line x1="286.9" y1="44.5" x2="356.4" y2="44.5" stroke="#b2b2b2" stroke-width="1.3"/>
<rect x="295.1" y="41.65" width="3.1" height="4.7" rx="1.35" fill="#f4c21c"/>
<rect x="310.0" y="41.85" width="10.0" height="4.3" rx="0.8" fill="#6aad45"/>
<rect x="327.8" y="41.85" width="4.6" height="4.3" rx="0.8" fill="#e2557f"/>
<line x1="286.9" y1="50.5" x2="358.5" y2="50.5" stroke="#b2b2b2" stroke-width="1.3"/>
<rect x="295.1" y="47.95" width="3.1" height="4.7" rx="1.35" fill="#f4c21c"/>
<rect x="310.0" y="48.15" width="10.0" height="4.3" rx="0.8" fill="#6aad45"/>
<rect x="327.8" y="48.15" width="4.6" height="4.3" rx="0.8" fill="#e2557f"/>
<line x1="286.9" y1="57.5" x2="357.8" y2="57.5" stroke="#b2b2b2" stroke-width="1.3"/>
<rect x="295.1" y="55.05" width="3.1" height="4.7" rx="1.35" fill="#f4c21c"/>
<rect x="310.0" y="55.25" width="10.0" height="4.3" rx="0.8" fill="#6aad45"/>
<rect x="327.8" y="55.25" width="4.6" height="4.3" rx="0.8" fill="#e2557f"/>
<line x1="286.9" y1="63.5" x2="410.4" y2="63.5" stroke="#b2b2b2" stroke-width="1.3"/>
<rect x="288.2" y="61.45" width="2.7" height="4.7" rx="1.35" fill="#f4c21c"/>
<rect x="313.1" y="61.65" width="10.0" height="4.3" rx="0.8" fill="#6aad45"/>
<line x1="286.9" y1="70.5" x2="410.4" y2="70.5" stroke="#b2b2b2" stroke-width="1.3"/>
<rect x="288.2" y="67.65" width="2.7" height="4.7" rx="1.35" fill="#f4c21c"/>
<rect x="313.1" y="67.85" width="10.0" height="4.3" rx="0.8" fill="#6aad45"/>
<line x1="286.9" y1="76.5" x2="417.8" y2="76.5" stroke="#b2b2b2" stroke-width="1.3"/>
<rect x="289.1" y="73.75" width="2.7" height="4.7" rx="1.35" fill="#f4c21c"/>
<rect x="306.0" y="73.95" width="9.8" height="4.3" rx="0.8" fill="#6aad45"/>
<line x1="286.9" y1="82.5" x2="417.8" y2="82.5" stroke="#b2b2b2" stroke-width="1.3"/>
<rect x="289.1" y="79.65" width="2.7" height="4.7" rx="1.35" fill="#f4c21c"/>
<rect x="306.0" y="79.85" width="9.8" height="4.3" rx="0.8" fill="#6aad45"/>
<line x1="286.9" y1="87.5" x2="419.6" y2="87.5" stroke="#b2b2b2" stroke-width="1.3"/>
<rect x="289.1" y="85.55" width="2.7" height="4.7" rx="1.35" fill="#f4c21c"/>
<rect x="306.0" y="85.75" width="9.8" height="4.3" rx="0.8" fill="#6aad45"/>
<line x1="286.9" y1="94.5" x2="419.6" y2="94.5" stroke="#b2b2b2" stroke-width="1.3"/>
<rect x="289.1" y="91.75" width="2.7" height="4.7" rx="1.35" fill="#f4c21c"/>
<rect x="306.0" y="91.95" width="9.8" height="4.3" rx="0.8" fill="#6aad45"/>
<line x1="286.9" y1="102.5" x2="437.6" y2="102.5" stroke="#b2b2b2" stroke-width="1.3"/>
<rect x="289.1" y="99.95" width="2.7" height="4.7" rx="1.35" fill="#f4c21c"/>
<rect x="296.7" y="100.15" width="5.5" height="4.3" rx="0.8" fill="#9590b6"/>
<rect x="306.9" y="100.15" width="4.0" height="4.3" rx="0.8" fill="#e1131f"/>
<rect x="320.9" y="100.15" width="9.6" height="4.3" rx="0.8" fill="#6aad45"/>
<rect x="338.2" y="100.15" width="4.5" height="4.3" rx="0.8" fill="#e2557f"/>
<rect x="348.2" y="100.15" width="36.0" height="4.3" rx="0.8" fill="#0b8279"/>
<rect x="387.3" y="100.15" width="15.4" height="4.3" rx="0.8" fill="#0b8279"/>
<line x1="286.9" y1="108.5" x2="437.6" y2="108.5" stroke="#b2b2b2" stroke-width="1.3"/>
<rect x="289.1" y="105.85" width="2.7" height="4.7" rx="1.35" fill="#f4c21c"/>
<rect x="296.7" y="106.05" width="5.5" height="4.3" rx="0.8" fill="#9590b6"/>
<rect x="306.9" y="106.05" width="4.0" height="4.3" rx="0.8" fill="#e1131f"/>
<rect x="320.9" y="106.05" width="9.6" height="4.3" rx="0.8" fill="#6aad45"/>
<rect x="338.2" y="106.05" width="4.5" height="4.3" rx="0.8" fill="#e2557f"/>
<rect x="348.2" y="106.05" width="36.3" height="4.3" rx="0.8" fill="#0b8279"/>
<rect x="387.6" y="106.05" width="11.5" height="4.3" rx="0.8" fill="#0b8279"/>
<line x1="286.9" y1="115.5" x2="351.8" y2="115.5" stroke="#b2b2b2" stroke-width="1.3"/>
<rect x="296.4" y="113.05" width="2.7" height="4.7" rx="1.35" fill="#f4c21c"/>
<rect x="312.4" y="113.25" width="9.8" height="4.3" rx="0.8" fill="#6aad45"/>
<rect x="330.9" y="113.25" width="4.0" height="4.3" rx="0.8" fill="#e2557f"/>
<line x1="286.9" y1="121.5" x2="351.8" y2="121.5" stroke="#b2b2b2" stroke-width="1.3"/>
<rect x="296.4" y="119.25" width="2.7" height="4.7" rx="1.35" fill="#f4c21c"/>
<rect x="312.4" y="119.45" width="9.8" height="4.3" rx="0.8" fill="#6aad45"/>
<rect x="330.9" y="119.45" width="4.0" height="4.3" rx="0.8" fill="#e2557f"/>
<line x1="286.9" y1="128.5" x2="365.5" y2="128.5" stroke="#b2b2b2" stroke-width="1.3"/>
<rect x="289.6" y="125.95" width="2.8" height="4.7" rx="1.35" fill="#f4c21c"/>
<rect x="309.5" y="126.15" width="9.6" height="4.3" rx="0.8" fill="#6aad45"/>
<rect x="327.8" y="126.15" width="4.4" height="4.3" rx="0.8" fill="#e2557f"/>
<rect x="352.7" y="126.15" width="3.7" height="4.3" rx="0.8" fill="#f59a1f"/>
<rect x="356.4" y="126.15" width="8.1" height="4.3" rx="0.8" fill="#a4d582"/>
<line x1="286.9" y1="134.5" x2="365.5" y2="134.5" stroke="#b2b2b2" stroke-width="1.3"/>
<rect x="289.6" y="132.25" width="2.8" height="4.7" rx="1.35" fill="#f4c21c"/>
<rect x="309.5" y="132.45" width="9.6" height="4.3" rx="0.8" fill="#6aad45"/>
<rect x="327.8" y="132.45" width="4.4" height="4.3" rx="0.8" fill="#e2557f"/>
<rect x="352.7" y="132.45" width="3.7" height="4.3" rx="0.8" fill="#f59a1f"/>
<rect x="356.4" y="132.45" width="8.1" height="4.3" rx="0.8" fill="#a4d582"/>
<line x1="286.9" y1="141.5" x2="374.0" y2="141.5" stroke="#b2b2b2" stroke-width="1.3"/>
<rect x="291.3" y="139.05" width="2.7" height="4.7" rx="1.35" fill="#f4c21c"/>
<rect x="311.3" y="139.25" width="9.6" height="4.3" rx="0.8" fill="#6aad45"/>
<rect x="330.0" y="139.25" width="4.0" height="4.3" rx="0.8" fill="#e2557f"/>
<rect x="358.7" y="139.25" width="7.1" height="4.3" rx="0.8" fill="#a4d582"/>
<line x1="286.9" y1="148.5" x2="372.7" y2="148.5" stroke="#b2b2b2" stroke-width="1.3"/>
<rect x="289.6" y="145.75" width="2.8" height="4.7" rx="1.35" fill="#f4c21c"/>
<rect x="309.5" y="145.95" width="9.6" height="4.3" rx="0.8" fill="#6aad45"/>
<rect x="327.8" y="145.95" width="4.4" height="4.3" rx="0.8" fill="#e2557f"/>
<rect x="353.3" y="145.95" width="3.6" height="4.3" rx="0.8" fill="#f59a1f"/>
<rect x="357.5" y="145.95" width="7.0" height="4.3" rx="0.8" fill="#a4d582"/>
<line x1="286.9" y1="153.5" x2="390.0" y2="153.5" stroke="#b2b2b2" stroke-width="1.3"/>
<rect x="299.1" y="151.45" width="2.7" height="4.7" rx="1.35" fill="#f4c21c"/>
<rect x="319.6" y="151.65" width="9.5" height="4.3" rx="0.8" fill="#6aad45"/>
<rect x="337.8" y="151.65" width="4.4" height="4.3" rx="0.8" fill="#e2557f"/>
<rect x="370.9" y="151.65" width="3.6" height="4.3" rx="0.8" fill="#f59a1f"/>
<rect x="374.9" y="151.65" width="7.3" height="4.3" rx="0.8" fill="#a4d582"/>
<line x1="286.9" y1="160.5" x2="390.0" y2="160.5" stroke="#b2b2b2" stroke-width="1.3"/>
<rect x="299.1" y="158.45" width="2.7" height="4.7" rx="1.35" fill="#f4c21c"/>
<rect x="319.6" y="158.65" width="9.5" height="4.3" rx="0.8" fill="#6aad45"/>
<rect x="337.8" y="158.65" width="4.4" height="4.3" rx="0.8" fill="#e2557f"/>
<rect x="370.9" y="158.65" width="3.6" height="4.3" rx="0.8" fill="#f59a1f"/>
<rect x="374.9" y="158.65" width="7.3" height="4.3" rx="0.8" fill="#a4d582"/>
<line x1="286.9" y1="167.5" x2="380.9" y2="167.5" stroke="#b2b2b2" stroke-width="1.3"/>
<rect x="296.7" y="165.15" width="2.8" height="4.7" rx="1.35" fill="#f4c21c"/>
<rect x="316.9" y="165.35" width="9.8" height="4.3" rx="0.8" fill="#6aad45"/>
<rect x="334.0" y="165.35" width="4.2" height="4.3" rx="0.8" fill="#e2557f"/>
<rect x="361.8" y="165.35" width="3.7" height="4.3" rx="0.8" fill="#f59a1f"/>
<rect x="365.8" y="165.35" width="7.3" height="4.3" rx="0.8" fill="#a4d582"/>
<line x1="286.9" y1="173.5" x2="384.2" y2="173.5" stroke="#b2b2b2" stroke-width="1.3"/>
<rect x="298.7" y="171.55" width="2.8" height="4.7" rx="1.35" fill="#f4c21c"/>
<rect x="318.7" y="171.75" width="9.8" height="4.3" rx="0.8" fill="#6aad45"/>
<rect x="337.3" y="171.75" width="4.5" height="4.3" rx="0.8" fill="#e2557f"/>
<rect x="365.8" y="171.75" width="3.3" height="4.3" rx="0.8" fill="#f59a1f"/>
<rect x="369.5" y="171.75" width="7.2" height="4.3" rx="0.8" fill="#a4d582"/>
<line x1="286.9" y1="180.5" x2="326.7" y2="180.5" stroke="#b2b2b2" stroke-width="1.3"/>
<rect x="288.5" y="178.15" width="12.4" height="4.3" rx="0.8" fill="#54398f"/>
<rect x="300.9" y="178.15" width="8.7" height="4.3" rx="0.8" fill="#6aad45"/>
<line x1="286.9" y1="186.5" x2="326.7" y2="186.5" stroke="#b2b2b2" stroke-width="1.3"/>
<rect x="288.5" y="184.45" width="12.4" height="4.3" rx="0.8" fill="#54398f"/>
<rect x="300.9" y="184.45" width="8.7" height="4.3" rx="0.8" fill="#6aad45"/>
<line x1="286.9" y1="193.5" x2="329.1" y2="193.5" stroke="#b2b2b2" stroke-width="1.3"/>
<rect x="304.5" y="191.15" width="8.8" height="4.3" rx="0.8" fill="#54398f"/>
<rect x="313.3" y="191.15" width="9.1" height="4.3" rx="0.8" fill="#6aad45"/>
<line x1="286.9" y1="199.5" x2="329.1" y2="199.5" stroke="#b2b2b2" stroke-width="1.3"/>
<rect x="304.5" y="197.35" width="8.8" height="4.3" rx="0.8" fill="#54398f"/>
<rect x="313.3" y="197.35" width="9.1" height="4.3" rx="0.8" fill="#6aad45"/>
<line x1="286.9" y1="206.5" x2="368.7" y2="206.5" stroke="#b2b2b2" stroke-width="1.3"/>
<rect x="289.1" y="204.05" width="3.3" height="4.3" rx="0.8" fill="#7d8a69"/>
<rect x="298.7" y="204.05" width="9.5" height="4.3" rx="0.8" fill="#54398f"/>
<rect x="308.2" y="204.05" width="9.4" height="4.3" rx="0.8" fill="#6aad45"/>
<line x1="286.9" y1="212.5" x2="368.7" y2="212.5" stroke="#b2b2b2" stroke-width="1.3"/>
<rect x="289.1" y="210.35" width="3.3" height="4.3" rx="0.8" fill="#7d8a69"/>
<rect x="298.7" y="210.35" width="9.5" height="4.3" rx="0.8" fill="#54398f"/>
<rect x="308.2" y="210.35" width="9.4" height="4.3" rx="0.8" fill="#6aad45"/>
<line x1="286.9" y1="219.5" x2="366.4" y2="219.5" stroke="#b2b2b2" stroke-width="1.3"/>
<rect x="289.1" y="216.95" width="3.3" height="4.3" rx="0.8" fill="#7d8a69"/>
<rect x="307.8" y="216.95" width="9.5" height="4.3" rx="0.8" fill="#6aad45"/>
<line x1="286.9" y1="225.5" x2="363.6" y2="225.5" stroke="#b2b2b2" stroke-width="1.3"/>
<rect x="289.1" y="223.35" width="3.3" height="4.3" rx="0.8" fill="#7d8a69"/>
<rect x="305.5" y="223.35" width="9.0" height="4.3" rx="0.8" fill="#6aad45"/>
<line x1="286.9" y1="232.5" x2="373.1" y2="232.5" stroke="#b2b2b2" stroke-width="1.3"/>
<rect x="287.6" y="229.85" width="3.3" height="4.3" rx="0.8" fill="#cc4c27"/>
<rect x="359.1" y="229.85" width="9.1" height="4.3" rx="0.8" fill="#6aad45"/>
<line x1="286.9" y1="238.5" x2="372.4" y2="238.5" stroke="#b2b2b2" stroke-width="1.3"/>
<rect x="287.6" y="236.25" width="3.3" height="4.3" rx="0.8" fill="#cc4c27"/>
<rect x="358.5" y="236.25" width="8.8" height="4.3" rx="0.8" fill="#6aad45"/>
<line x1="286.9" y1="244.5" x2="364.5" y2="244.5" stroke="#b2b2b2" stroke-width="1.3"/>
<rect x="288.5" y="242.65" width="3.3" height="4.3" rx="0.8" fill="#cc4c27"/>
<rect x="302.7" y="242.65" width="5.5" height="4.3" rx="0.8" fill="#3dab82"/>
<rect x="349.6" y="242.65" width="7.7" height="4.3" rx="0.8" fill="#6aad45"/>
<line x1="286.9" y1="251.5" x2="364.5" y2="251.5" stroke="#b2b2b2" stroke-width="1.3"/>
<rect x="288.5" y="249.15" width="3.3" height="4.3" rx="0.8" fill="#cc4c27"/>
<rect x="302.7" y="249.15" width="5.5" height="4.3" rx="0.8" fill="#3dab82"/>
<rect x="349.6" y="249.15" width="7.7" height="4.3" rx="0.8" fill="#6aad45"/>
<line x1="286.9" y1="257.5" x2="388.2" y2="257.5" stroke="#b2b2b2" stroke-width="1.3"/>
<rect x="287.6" y="255.55" width="3.3" height="4.3" rx="0.8" fill="#cc4c27"/>
<rect x="376.4" y="255.55" width="7.8" height="4.3" rx="0.8" fill="#6aad45"/>
<line x1="286.9" y1="264.5" x2="386.0" y2="264.5" stroke="#b2b2b2" stroke-width="1.3"/>
<rect x="287.6" y="261.95" width="3.3" height="4.3" rx="0.8" fill="#cc4c27"/>
<rect x="374.0" y="261.95" width="8.2" height="4.3" rx="0.8" fill="#6aad45"/>
<line x1="286.9" y1="270.5" x2="407.8" y2="270.5" stroke="#b2b2b2" stroke-width="1.3"/>
<rect x="346.4" y="268.45" width="5.1" height="4.3" rx="0.8" fill="#3dab82"/>
<rect x="395.1" y="268.45" width="8.5" height="4.3" rx="0.8" fill="#6aad45"/>
<line x1="286.9" y1="277.5" x2="406.0" y2="277.5" stroke="#b2b2b2" stroke-width="1.3"/>
<rect x="343.3" y="274.85" width="5.2" height="4.3" rx="0.8" fill="#3dab82"/>
<rect x="391.8" y="274.85" width="8.6" height="4.3" rx="0.8" fill="#6aad45"/>
<line x1="286.9" y1="283.5" x2="367.8" y2="283.5" stroke="#b2b2b2" stroke-width="1.3"/>
<rect x="287.6" y="281.05" width="3.3" height="4.3" rx="0.8" fill="#cc4c27"/>
<rect x="355.1" y="281.05" width="8.2" height="4.3" rx="0.8" fill="#6aad45"/>
<line x1="286.9" y1="289.5" x2="368.7" y2="289.5" stroke="#b2b2b2" stroke-width="1.3"/>
<rect x="288.7" y="287.45" width="3.3" height="4.3" rx="0.8" fill="#cc4c27"/>
<rect x="356.0" y="287.45" width="8.2" height="4.3" rx="0.8" fill="#6aad45"/>
<line x1="286.9" y1="296.5" x2="374.9" y2="296.5" stroke="#b2b2b2" stroke-width="1.3"/>
<rect x="300.4" y="294.05" width="0.7" height="4.3" rx="0" fill="#e8839f"/>
<rect x="302.9" y="294.05" width="0.7" height="4.3" rx="0" fill="#e8839f"/>
<rect x="309.1" y="294.05" width="7.3" height="4.3" rx="0.8" fill="#3dab82"/>
<rect x="361.3" y="294.05" width="8.7" height="4.3" rx="0.8" fill="#6aad45"/>
<line x1="286.9" y1="302.5" x2="374.9" y2="302.5" stroke="#b2b2b2" stroke-width="1.3"/>
<rect x="300.4" y="300.75" width="0.7" height="4.3" rx="0" fill="#e8839f"/>
<rect x="302.9" y="300.75" width="0.7" height="4.3" rx="0" fill="#e8839f"/>
<rect x="309.1" y="300.75" width="7.3" height="4.3" rx="0.8" fill="#3dab82"/>
<rect x="361.3" y="300.75" width="8.7" height="4.3" rx="0.8" fill="#6aad45"/>
<line x1="286.9" y1="309.5" x2="374.2" y2="309.5" stroke="#b2b2b2" stroke-width="1.3"/>
<rect x="310.5" y="306.95" width="5.3" height="4.3" rx="0.8" fill="#3dab82"/>
<rect x="360.9" y="306.95" width="8.2" height="4.3" rx="0.8" fill="#6aad45"/>
<line x1="286.9" y1="315.5" x2="373.6" y2="315.5" stroke="#b2b2b2" stroke-width="1.3"/>
<rect x="310.5" y="313.45" width="5.3" height="4.3" rx="0.8" fill="#3dab82"/>
<rect x="360.9" y="313.45" width="8.2" height="4.3" rx="0.8" fill="#6aad45"/>
<line x1="286.9" y1="322.5" x2="360.5" y2="322.5" stroke="#b2b2b2" stroke-width="1.3"/>
<rect x="347.6" y="320.25" width="8.4" height="4.3" rx="0.8" fill="#6aad45"/>
<line x1="286.9" y1="328.5" x2="360.9" y2="328.5" stroke="#b2b2b2" stroke-width="1.3"/>
<rect x="347.6" y="326.45" width="8.4" height="4.3" rx="0.8" fill="#6aad45"/>
<line x1="286.9" y1="335.5" x2="371.8" y2="335.5" stroke="#b2b2b2" stroke-width="1.3"/>
<rect x="359.5" y="332.95" width="8.3" height="4.3" rx="0.8" fill="#6aad45"/>
<line x1="286.9" y1="341.5" x2="372.4" y2="341.5" stroke="#b2b2b2" stroke-width="1.3"/>
<rect x="359.5" y="339.25" width="8.3" height="4.3" rx="0.8" fill="#6aad45"/>
</g>
<g font-family="'Liberation Serif', serif" font-weight="bold" font-size="7.4" fill="#111" stroke="#111" stroke-width="0.25">
<rect x="235.1" y="25.8" width="12.1" height="2.8" rx="1.2" stroke="none" fill="#1fa038"/>
<line x1="235.1" y1="37.4" x2="245.4" y2="37.4" stroke="#222" stroke-width="1.1"/>
<text font-size="6.8" stroke-width="0.12" transform="translate(249.2,29.0) scale(0.74,1)">CDS</text>
<text font-size="7" transform="translate(249.2,39.4) scale(0.9,1)">Intron</text>
<rect x="442.7" y="22.5" width="15.8" height="3.8" rx="0.9" stroke="none" fill="#6aad45"/>
<text transform="translate(461.1,25.9) scale(0.75,1)">JmjC</text>
<rect x="442.7" y="30.9" width="15.8" height="3.8" rx="0.9" stroke="none" fill="#f4c21c"/>
<text transform="translate(461.1,34.3) scale(0.75,1)">JmjN</text>
<rect x="442.7" y="39.4" width="15.8" height="3.8" rx="0.9" stroke="none" fill="#e2557f"/>
<text transform="translate(461.1,42.8) scale(0.69,1)">zf-C5HC2</text>
<rect x="442.7" y="47.8" width="15.8" height="3.8" rx="0.9" stroke="none" fill="#0b8279"/>
<text transform="translate(461.1,51.2) scale(0.72,1)">PLU-1</text>
<rect x="442.7" y="56.3" width="15.8" height="3.8" rx="0.9" stroke="none" fill="#e1131f"/>
<text transform="translate(461.1,59.7) scale(0.69,1)">PHD</text>
<rect x="442.7" y="64.7" width="15.8" height="3.8" rx="0.9" stroke="none" fill="#9590b6"/>
<text transform="translate(461.1,68.1) scale(0.69,1)">ARID</text>
<rect x="442.7" y="73.1" width="15.8" height="3.8" rx="0.9" stroke="none" fill="#a4d582"/>
<text transform="translate(461.1,76.5) scale(0.69,1)">FYRC</text>
<rect x="442.7" y="81.6" width="15.8" height="3.8" rx="0.9" stroke="none" fill="#f59a1f"/>
<text transform="translate(461.1,85.0) scale(0.69,1)">FYRN</text>
<rect x="442.7" y="90.0" width="15.8" height="3.8" rx="0.9" stroke="none" fill="#54398f"/>
<text transform="translate(461.1,93.4) scale(0.69,1)">Cupin_8</text>
<rect x="442.7" y="98.5" width="15.8" height="3.8" rx="0.9" stroke="none" fill="#f5ab7c"/>
<text transform="translate(461.1,101.9) scale(0.69,1)">F-box-like</text>
<rect x="442.7" y="106.9" width="15.8" height="3.8" rx="0.9" stroke="none" fill="#7d8a69"/>
<text transform="translate(461.1,110.3) scale(0.69,1)">F-box</text>
<rect x="442.7" y="115.3" width="15.8" height="3.8" rx="0.9" stroke="none" fill="#cc4c27"/>
<text transform="translate(461.1,118.7) scale(0.69,1)">WRC</text>
<rect x="442.7" y="123.8" width="15.8" height="3.8" rx="0.9" stroke="none" fill="#3dab82"/>
<text transform="translate(461.1,127.2) scale(0.64,1)">zf-4CXXC_R1</text>
<rect x="442.7" y="132.2" width="15.8" height="3.8" rx="0.9" stroke="none" fill="#e8839f"/>
<text transform="translate(461.1,135.6) scale(0.69,1)">AT_hook</text>
</g>
<line x1="494.8" y1="22.9" x2="494.8" y2="94.8" stroke="#4c4646" stroke-width="1.6"/>
<line x1="494.8" y1="100.4" x2="494.8" y2="172.8" stroke="#4c4646" stroke-width="1.6"/>
<line x1="494.8" y1="178.8" x2="494.8" y2="186.2" stroke="#4c4646" stroke-width="1.6"/>
<line x1="494.8" y1="191.8" x2="494.8" y2="224.5" stroke="#4c4646" stroke-width="1.6"/>
<line x1="494.8" y1="231" x2="494.8" y2="341.6" stroke="#4c4646" stroke-width="1.6"/>
<g font-family="'Liberation Serif', serif" font-weight="bold" fill="#111" stroke="#111" stroke-width="0.3">
<text font-size="7.8" transform="translate(501.3,59.7) scale(0.723,1)">KDM4/JHDM3</text>
<text font-size="7.6" transform="translate(501.5,134.3) scale(0.82,1)">KDM5/JARID</text>
<text font-size="7.5" transform="translate(499.6,186.5) scale(0.756,1)">JmjC domain-only</text>
<text font-size="7.4" stroke-width="0.4" transform="translate(499.6,210.3) scale(0.99,1)">JMJD6</text>
<text font-size="7.6" transform="translate(499.8,288.3) scale(0.8,1)">KDM3/JHDM2</text>
</g>
<g font-family="'Liberation Serif', serif" font-weight="bold" font-size="10.3" fill="#111" stroke="#111" stroke-width="0.3">
<text transform="translate(26.5,13.7) scale(0.98,1)">A.</text>
<text transform="translate(87.5,13.7) scale(0.98,1)">B.</text>
<text transform="translate(287.3,13.7) scale(0.98,1)">C.</text>
</g>
<line x1="85.4" y1="353.6" x2="272.9" y2="353.6" stroke="#111" stroke-width="1.2"/>
<line x1="87.0" y1="353.6" x2="87.0" y2="354.7" stroke="#111" stroke-width="0.8"/>
<line x1="100.2" y1="353.6" x2="100.2" y2="354.7" stroke="#111" stroke-width="0.8"/>
<line x1="113.5" y1="353.6" x2="113.5" y2="354.7" stroke="#111" stroke-width="0.8"/>
<line x1="126.8" y1="353.6" x2="126.8" y2="354.7" stroke="#111" stroke-width="0.8"/>
<line x1="140.0" y1="353.6" x2="140.0" y2="354.7" stroke="#111" stroke-width="0.8"/>
<line x1="153.2" y1="353.6" x2="153.2" y2="354.7" stroke="#111" stroke-width="0.8"/>
<line x1="166.5" y1="353.6" x2="166.5" y2="354.7" stroke="#111" stroke-width="0.8"/>
<line x1="179.8" y1="353.6" x2="179.8" y2="354.7" stroke="#111" stroke-width="0.8"/>
<line x1="193.0" y1="353.6" x2="193.0" y2="354.7" stroke="#111" stroke-width="0.8"/>
<line x1="206.2" y1="353.6" x2="206.2" y2="354.7" stroke="#111" stroke-width="0.8"/>
<line x1="219.5" y1="353.6" x2="219.5" y2="354.7" stroke="#111" stroke-width="0.8"/>
<line x1="232.8" y1="353.6" x2="232.8" y2="354.7" stroke="#111" stroke-width="0.8"/>
<line x1="246.0" y1="353.6" x2="246.0" y2="354.7" stroke="#111" stroke-width="0.8"/>
<line x1="259.2" y1="353.6" x2="259.2" y2="354.7" stroke="#111" stroke-width="0.8"/>
<line x1="272.5" y1="353.6" x2="272.5" y2="354.7" stroke="#111" stroke-width="0.8"/>
<g font-family="'Liberation Serif', serif" font-weight="bold" font-size="7.4" fill="#111" stroke="#111" stroke-width="0.25">
<text transform="translate(86.0,362.6) scale(0.775,1)" text-anchor="middle">0 kb</text>
<text transform="translate(113.5,362.6) scale(0.775,1)" text-anchor="middle">2 kb</text>
<text transform="translate(140.0,362.6) scale(0.775,1)" text-anchor="middle">4 kb</text>
<text transform="translate(166.5,362.6) scale(0.775,1)" text-anchor="middle">6 kb</text>
<text transform="translate(193.0,362.6) scale(0.775,1)" text-anchor="middle">8 kb</text>
<text transform="translate(219.5,362.6) scale(0.775,1)" text-anchor="middle">10 kb</text>
<text transform="translate(246.0,362.6) scale(0.775,1)" text-anchor="middle">12 kb</text>
<text transform="translate(270.6,362.6) scale(0.775,1)" text-anchor="middle">14 kb</text>
<text font-size="7.8" transform="translate(84.5,351.6) scale(0.8,1)">5'</text>
<text font-size="7.4" transform="translate(271.0,352.3) scale(0.66,1)">3'</text>
<text transform="translate(285.7,362.5) scale(0.745,1)">0</text>
<text transform="translate(291.6,362.5) scale(0.8,1)">aa</text>
<text transform="translate(320.8,362.5) scale(0.745,1)">500</text>
<text transform="translate(332.6,362.5) scale(0.8,1)">aa</text>
<text transform="translate(361.4,362.5) scale(0.745,1)">1000</text>
<text transform="translate(374.7,362.5) scale(0.8,1)">aa</text>
<text transform="translate(401.0,362.5) scale(0.745,1)">1500</text>
<text transform="translate(416.1,362.5) scale(0.8,1)">aa</text>
<text transform="translate(443.0,362.5) scale(0.745,1)">2000</text>
<text transform="translate(458.1,362.5) scale(0.8,1)">aa</text>
</g>
<line x1="285.4" y1="353.1" x2="450.4" y2="353.1" stroke="#111" stroke-width="1.2"/>
<line x1="286.0" y1="353.1" x2="286.0" y2="354.3" stroke="#111" stroke-width="0.8"/>
<line x1="327.0" y1="353.1" x2="327.0" y2="354.3" stroke="#111" stroke-width="0.8"/>
<line x1="368.0" y1="353.1" x2="368.0" y2="354.3" stroke="#111" stroke-width="0.8"/>
<line x1="409.0" y1="353.1" x2="409.0" y2="354.3" stroke="#111" stroke-width="0.8"/>
<line x1="450.0" y1="353.1" x2="450.0" y2="354.3" stroke="#111" stroke-width="0.8"/>
</svg>
</body></html>
